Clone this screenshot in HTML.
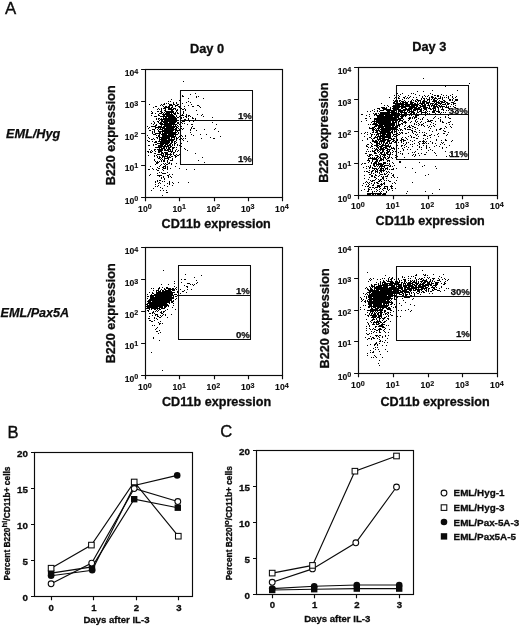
<!DOCTYPE html>
<html lang="en"><head><meta charset="utf-8"><title>Figure</title>
<style>
html,body{margin:0;padding:0;background:#fff;}
body{width:520px;height:626px;overflow:hidden;}
svg{display:block;will-change:transform;}
text{font-family:"Liberation Sans",Arial,Helvetica,sans-serif;fill:#0c0c0c;}
.r{stroke:#0c0c0c;stroke-width:0.35px;}
.b{font-weight:bold;stroke:#0c0c0c;stroke-width:0.3px;}
.t{stroke-width:0.12px;}
.bi{font-weight:bold;font-style:italic;stroke:#0c0c0c;stroke-width:0.25px;}
.ln{stroke:#0a0a0a;stroke-width:1.15;fill:none;}
.gate{stroke:#0a0a0a;stroke-width:1.05;fill:none;}
.dots{stroke:#000;fill:none;stroke-linecap:butt;}
</style></head><body>
<svg width="520" height="626" viewBox="0 0 520 626">
<rect width="520" height="626" fill="#fff"/>
<path class="dots" stroke-width="1" d="M169,111.5h1M174,123.5h1M173,113.5h1M167,107.5h1M167,155.5h1M166,120.5h1M171,110.5h1M168,140.5h1M171,136.5h1M161,123.5h1M168,116.5h1M168,124.5h1M167,119.5h1M170,124.5h1M172,136.5h1M168,112.5h1M168,123.5h1M171,108.5h1M165,155.5h1M163,154.5h1M170,135.5h1M166,128.5h1M161,143.5h1M165,107.5h1M167,132.5h1M164,118.5h1M163,119.5h1M169,119.5h1M172,118.5h1M168,134.5h1M166,138.5h1M170,128.5h1M171,113.5h1M167,135.5h1M171,123.5h1M173,134.5h1M168,117.5h1M170,120.5h1M169,149.5h1M173,126.5h1M163,131.5h1M166,139.5h1M165,136.5h1M162,140.5h1M169,120.5h1M171,125.5h1M166,132.5h1M174,113.5h1M172,110.5h1M172,129.5h1M163,138.5h1M171,129.5h1M171,152.5h1M162,138.5h1M170,136.5h1M168,149.5h1M172,123.5h1M168,138.5h1M170,143.5h1M165,134.5h1M171,128.5h1M168,128.5h1M170,111.5h1M166,141.5h1M173,119.5h1M171,105.5h1M168,126.5h1M173,109.5h1M175,118.5h1M162,124.5h1M172,134.5h1M170,108.5h1M168,130.5h1M165,138.5h1M173,137.5h1M164,143.5h1M171,126.5h1M174,121.5h1M162,134.5h1M167,141.5h1M163,126.5h1M169,131.5h1M174,118.5h1M176,120.5h1M162,132.5h1M166,153.5h1M171,116.5h1M175,122.5h1M166,137.5h1M170,130.5h1M168,131.5h1M166,114.5h1M170,125.5h1M170,112.5h1M168,115.5h1M163,122.5h1M167,128.5h1M173,136.5h1M163,137.5h1M174,136.5h1M171,114.5h1M169,122.5h1M167,126.5h1M163,147.5h1M174,144.5h1M179,100.5h1M165,158.5h1M166,147.5h1M171,133.5h1M165,135.5h1M167,129.5h1M169,121.5h1M173,123.5h1M172,127.5h1M167,127.5h1M170,129.5h1M160,141.5h1M172,137.5h1M166,118.5h1M171,134.5h1M171,107.5h1M174,124.5h1M172,114.5h1M172,122.5h1M168,120.5h1M166,106.5h1M167,130.5h1M164,139.5h1M166,113.5h1M169,116.5h1M161,129.5h1M168,118.5h1M169,135.5h1M173,132.5h1M171,132.5h1M166,119.5h1M166,131.5h1M176,115.5h1M176,128.5h1M177,117.5h1M165,125.5h1M170,140.5h1M170,133.5h1M171,137.5h1M169,134.5h1M169,112.5h1M163,130.5h1M166,122.5h1M169,126.5h1M167,133.5h1M171,140.5h1M170,123.5h1M169,136.5h1M167,144.5h1M169,118.5h1M171,138.5h1M166,130.5h1M164,130.5h1M165,133.5h1M174,133.5h1M169,125.5h1M164,138.5h1M162,136.5h1M175,113.5h1M163,139.5h1M170,126.5h1M171,109.5h1M163,113.5h1M170,114.5h1M172,130.5h1M170,118.5h1M171,117.5h1M172,121.5h1M167,116.5h1M164,122.5h1M175,119.5h1M166,154.5h1M171,120.5h1M159,143.5h1M169,132.5h1M166,134.5h1M163,134.5h1M172,148.5h1M175,128.5h1M167,114.5h1M161,151.5h1M170,121.5h1M167,138.5h1M170,127.5h1M165,129.5h1M163,160.5h1M168,113.5h1M167,131.5h1M167,140.5h1M172,109.5h1M173,139.5h1M167,145.5h1M171,118.5h1M166,127.5h1M171,130.5h1M170,109.5h1M164,133.5h1M173,122.5h1M164,125.5h1M161,112.5h1M166,135.5h1M170,122.5h1M169,124.5h1M168,127.5h1M173,116.5h1M169,106.5h1M170,145.5h1M164,128.5h1M170,131.5h1M167,136.5h1M170,139.5h1M170,157.5h1M162,130.5h1M174,114.5h1M162,150.5h1M167,120.5h1M170,146.5h1M183,120.5h1M164,135.5h1M161,120.5h1M164,132.5h1M175,114.5h1M166,148.5h1M169,133.5h1M180,123.5h1M166,123.5h1M165,120.5h1M168,129.5h1M172,119.5h1M169,129.5h1M158,133.5h1M165,118.5h1M171,122.5h1M168,135.5h1M176,118.5h1M172,112.5h1M172,115.5h1M169,127.5h1M168,132.5h1M170,134.5h1M174,119.5h1M173,124.5h1M169,130.5h1M165,119.5h1M166,126.5h1M158,151.5h1M168,125.5h1M173,125.5h1M159,166.5h1M168,143.5h1M171,139.5h1M175,129.5h1M174,129.5h1M160,131.5h1M172,117.5h1M169,123.5h1M163,136.5h1M170,104.5h1M168,109.5h1M175,106.5h1M168,137.5h1M172,105.5h1M170,119.5h1M166,121.5h1M169,128.5h1M166,125.5h1M168,106.5h1M175,117.5h1M159,129.5h1M167,123.5h1M175,125.5h1M166,146.5h1M171,143.5h1M165,117.5h1M171,131.5h1M174,116.5h1M173,117.5h1M168,108.5h1M167,137.5h1M167,112.5h1M172,120.5h1M163,121.5h1M164,120.5h1M164,160.5h1M162,128.5h1M171,111.5h1M176,121.5h1M168,114.5h1M163,133.5h1M163,143.5h1M172,126.5h1M162,142.5h1M167,125.5h1M173,128.5h1M174,108.5h1M173,129.5h1M175,141.5h1M168,121.5h1M161,141.5h1M168,136.5h1M159,134.5h1M166,136.5h1M162,133.5h1M172,107.5h1M174,127.5h1M169,141.5h1M168,148.5h1M169,142.5h1M164,136.5h1M160,143.5h1M164,127.5h1M166,129.5h1M167,124.5h1M164,123.5h1M173,121.5h1M171,119.5h1M167,118.5h1M169,109.5h1M165,122.5h1M165,154.5h1M168,111.5h1M164,150.5h1M165,128.5h1M173,133.5h1M162,137.5h1M165,131.5h1M165,141.5h1M173,118.5h1M168,107.5h1M165,143.5h1M165,142.5h1M169,114.5h1M163,141.5h1M173,102.5h1M173,120.5h1M167,122.5h1M166,107.5h1M171,127.5h1M162,116.5h1M165,144.5h1M165,139.5h1M165,146.5h1M169,138.5h1M175,112.5h1M164,124.5h1M165,149.5h1M164,149.5h1M174,120.5h1M161,161.5h1M175,126.5h1M172,116.5h1M161,122.5h1M169,137.5h1M162,135.5h1M162,123.5h1M158,135.5h1M177,112.5h1M172,141.5h1M169,140.5h1M164,146.5h1M176,105.5h1M175,105.5h1M169,117.5h1M174,134.5h1M174,117.5h1M175,130.5h1M173,115.5h1M171,135.5h1M167,115.5h1M169,105.5h1M177,131.5h1M167,142.5h1M160,146.5h1M164,158.5h1M178,123.5h1M159,135.5h1M159,157.5h1M172,128.5h1M163,148.5h1M173,111.5h1M162,143.5h1M174,122.5h1M164,134.5h1M164,147.5h1M172,131.5h1M167,149.5h1M161,140.5h1M164,137.5h1M175,133.5h1M174,126.5h1M168,139.5h1M169,113.5h1M166,143.5h1M170,116.5h1M172,142.5h1M172,135.5h1M178,106.5h1M170,132.5h1M176,119.5h1M165,150.5h1M166,116.5h1M166,142.5h1M176,111.5h1M166,124.5h1M173,140.5h1M164,140.5h1M169,139.5h1M167,157.5h1M166,117.5h1M161,119.5h1M165,111.5h1M173,112.5h1M164,129.5h1M164,119.5h1M177,110.5h1M162,153.5h1M175,120.5h1M175,143.5h1M154,116.5h1M153,129.5h1M170,144.5h1M155,128.5h1M158,118.5h1M158,147.5h1M159,168.5h1M172,144.5h1M177,105.5h1M159,137.5h1M178,150.5h1M173,127.5h1M148,137.5h1M159,127.5h1M167,154.5h1M182,129.5h1M158,126.5h1M158,119.5h1M161,152.5h1M174,155.5h1M156,119.5h1M168,150.5h1M178,117.5h1M160,128.5h1M161,109.5h1M166,152.5h1M157,133.5h1M164,103.5h1M181,118.5h1M177,144.5h1M161,118.5h1M185,136.5h1M163,108.5h1M172,133.5h1M160,142.5h1M176,126.5h1M159,141.5h1M174,141.5h1M165,106.5h1M162,129.5h1M154,153.5h1M169,107.5h1M155,144.5h1M168,101.5h1M147,126.5h1M158,128.5h1M178,120.5h1M157,111.5h1M160,126.5h1M162,141.5h1M168,177.5h1M147,140.5h1M171,115.5h1M158,145.5h1M164,114.5h1M164,108.5h1M172,147.5h1M154,139.5h1M171,151.5h1M164,141.5h1M180,110.5h1M169,162.5h1M159,161.5h1M161,145.5h1M148,141.5h1M153,121.5h1M172,145.5h1M165,145.5h1M155,153.5h1M162,156.5h1M178,132.5h1M175,157.5h1M153,144.5h1M170,160.5h1M158,122.5h1M160,132.5h1M161,126.5h1M177,155.5h1M179,136.5h1M163,144.5h1M158,143.5h1M167,146.5h1M152,129.5h1M187,150.5h1M174,143.5h1M156,133.5h1M162,119.5h1M151,123.5h1M151,115.5h1M164,131.5h1M176,124.5h1M177,130.5h1M166,103.5h1M165,126.5h1M164,126.5h1M163,127.5h1M164,142.5h1M170,168.5h1M169,156.5h1M166,140.5h1M177,120.5h1M175,135.5h1M155,116.5h1M163,115.5h1M173,148.5h1M169,148.5h1M166,144.5h1M169,157.5h1M155,113.5h1M159,118.5h1M159,146.5h1M179,129.5h1M169,151.5h1M168,133.5h1M162,159.5h1M178,113.5h1M165,140.5h1M178,137.5h1M184,123.5h1M158,131.5h1M162,127.5h1M163,117.5h1M148,152.5h1M166,111.5h1M159,151.5h1M160,122.5h1M170,154.5h1M170,153.5h1M161,149.5h1M147,135.5h1M163,140.5h1M178,130.5h1M161,148.5h1M187,141.5h1M151,152.5h1M162,105.5h1M154,160.5h1M162,139.5h1M159,132.5h1M152,133.5h1M168,157.5h1M161,138.5h1M175,124.5h1M154,149.5h1M181,128.5h1M166,133.5h1M168,142.5h1M157,137.5h1M169,144.5h1M168,145.5h1M172,111.5h1M173,135.5h1M152,131.5h1M168,146.5h1M161,121.5h1M174,145.5h1M167,113.5h1M165,116.5h1M149,130.5h1M160,129.5h1M160,116.5h1M182,136.5h1M171,177.5h1M162,120.5h1M178,126.5h1M165,137.5h1M176,134.5h1M180,132.5h1M155,133.5h1M167,167.5h1M181,117.5h1M186,116.5h1M167,143.5h1M170,150.5h1M176,147.5h1M162,144.5h1M147,151.5h1M157,163.5h1M150,151.5h1M153,126.5h1M175,121.5h1M174,132.5h1M156,118.5h1M181,126.5h1M162,131.5h1M180,119.5h1M181,120.5h1M164,112.5h1M160,124.5h1M176,130.5h1M175,151.5h1M158,146.5h1M167,156.5h1M176,149.5h1M171,121.5h1M186,102.5h1M173,147.5h1M163,142.5h1M178,133.5h1M161,153.5h1M177,113.5h1M159,136.5h1M172,124.5h1M157,127.5h1M163,167.5h1M160,119.5h1M165,130.5h1M152,151.5h1M180,148.5h1M169,108.5h1M166,115.5h1M164,110.5h1M176,154.5h1M166,158.5h1M179,154.5h1M160,157.5h1M179,124.5h1M167,152.5h1M158,162.5h1M162,148.5h1M164,161.5h1M163,155.5h1M181,135.5h1M176,102.5h1M173,153.5h1M170,117.5h1M174,142.5h1M172,106.5h1M155,141.5h1M161,142.5h1M177,125.5h1M160,123.5h1M161,164.5h1M174,138.5h1M155,125.5h1M172,139.5h1M188,118.5h1M161,160.5h1M168,103.5h1M163,106.5h1M153,107.5h1M157,138.5h1M155,161.5h1M165,156.5h1M158,121.5h1M161,110.5h1M168,151.5h1M148,151.5h1M171,124.5h1M148,155.5h1M176,132.5h1M154,131.5h1M176,127.5h1M154,130.5h1M152,126.5h1M158,150.5h1M158,127.5h1M166,112.5h1M163,163.5h1M163,153.5h1M160,137.5h1M159,139.5h1M181,122.5h1M157,143.5h1M161,137.5h1M169,104.5h1M178,104.5h1M160,127.5h1M189,121.5h1M160,149.5h1M156,124.5h1M185,138.5h1M180,137.5h1M167,121.5h1M173,152.5h1M177,104.5h1M167,111.5h1M157,121.5h1M153,138.5h1M161,134.5h1M177,122.5h1M175,136.5h1M169,147.5h1M151,150.5h1M179,107.5h1M175,131.5h1M163,116.5h1M175,150.5h1M160,144.5h1M173,108.5h1M159,140.5h1M176,110.5h1M159,123.5h1M159,147.5h1M171,146.5h1M159,150.5h1M181,146.5h1M165,152.5h1M177,109.5h1M179,145.5h1M156,141.5h1M180,121.5h1M151,126.5h1M163,124.5h1M168,159.5h1M167,158.5h1M154,132.5h1M163,118.5h1M176,103.5h1M159,148.5h1M159,109.5h1M183,138.5h1M179,116.5h1M173,130.5h1M155,127.5h1M179,139.5h1M165,113.5h1M162,155.5h1M155,151.5h1M180,106.5h1M161,131.5h1M158,154.5h1M161,111.5h1M176,138.5h1M157,129.5h1M156,127.5h1M165,153.5h1M174,152.5h1M163,166.5h1M176,156.5h1M173,103.5h1M179,106.5h1M155,106.5h1M155,149.5h1M149,145.5h1M149,141.5h1M155,126.5h1M171,141.5h1M167,166.5h1M160,139.5h1M167,175.5h1M169,115.5h1M169,145.5h1M175,134.5h1M181,138.5h1M173,104.5h1M165,121.5h1M176,116.5h1M164,164.5h1M156,144.5h1M165,168.5h1M185,109.5h1M175,109.5h1M157,157.5h1M176,137.5h1M167,150.5h1M185,116.5h1M153,124.5h1M159,131.5h1M165,173.5h1M154,123.5h1M169,163.5h1M165,132.5h1M156,142.5h1M154,150.5h1M171,142.5h1M159,133.5h1M165,109.5h1M161,146.5h1M175,166.5h1M165,123.5h1M159,126.5h1M167,164.5h1M158,149.5h1M162,112.5h1M177,123.5h1M178,122.5h1M164,145.5h1M156,155.5h1M158,152.5h1M165,165.5h1M171,99.5h1M179,130.5h1M172,149.5h1M184,148.5h1M164,152.5h1M163,146.5h1M158,130.5h1M174,104.5h1M176,129.5h1M162,121.5h1M152,112.5h1M156,106.5h1M172,132.5h1M152,132.5h1M161,124.5h1M158,108.5h1M182,139.5h1M178,128.5h1M174,139.5h1M177,151.5h1M176,140.5h1M154,129.5h1M160,133.5h1M163,170.5h1M182,123.5h1M170,101.5h1M174,147.5h1M163,114.5h1M155,164.5h1M161,113.5h1M160,147.5h1M159,115.5h1M185,135.5h1M160,111.5h1M161,108.5h1M149,127.5h1M165,108.5h1M159,154.5h1M154,134.5h1M159,138.5h1M160,151.5h1M165,114.5h1M171,112.5h1M161,139.5h1M156,116.5h1M149,149.5h1M149,104.5h1M164,107.5h1M155,142.5h1M164,156.5h1M162,173.5h1M180,111.5h1M157,109.5h1M154,142.5h1M164,168.5h1M163,104.5h1M158,115.5h1M184,106.5h1M154,126.5h1M162,114.5h1M168,119.5h1M148,145.5h1M162,146.5h1M158,114.5h1M171,104.5h1M161,116.5h1M180,127.5h1M171,154.5h1M173,154.5h1M183,117.5h1M160,105.5h1M180,136.5h1M167,153.5h1M152,113.5h1M157,162.5h1M170,105.5h1M153,134.5h1M157,161.5h1M150,130.5h1M181,143.5h1M178,155.5h1M175,155.5h1M168,158.5h1M177,145.5h1M154,156.5h1M176,142.5h1M167,160.5h1M182,114.5h1M161,104.5h1M159,113.5h1M172,160.5h1M168,141.5h1M165,110.5h1M172,151.5h1M178,182.5h1M164,104.5h1M163,156.5h1M168,147.5h1M177,134.5h1M163,135.5h1M152,139.5h1M151,113.5h1M154,122.5h1M165,124.5h1M157,156.5h1M172,140.5h1M163,128.5h1M161,127.5h1M162,145.5h1M174,137.5h1M166,150.5h1M165,163.5h1M164,121.5h1M172,156.5h1M159,120.5h1M176,139.5h1M177,127.5h1M158,136.5h1M157,154.5h1M164,157.5h1M149,138.5h1M156,125.5h1M161,155.5h1M177,138.5h1M151,139.5h1M161,125.5h1M183,128.5h1M157,149.5h1M161,147.5h1M155,182.5h1M164,115.5h1M164,148.5h1M158,111.5h1M157,167.5h1M161,150.5h1M170,151.5h1M180,115.5h1M182,121.5h1M175,132.5h1M157,147.5h1M164,116.5h1M151,111.5h1M156,169.5h1M175,108.5h1M170,115.5h1M160,113.5h1M158,168.5h1M162,157.5h1M165,166.5h1M167,172.5h1M148,169.5h1M161,144.5h1M170,147.5h1M171,164.5h1M164,166.5h1M163,161.5h1M160,175.5h1M150,174.5h1M149,169.5h1M159,182.5h1M161,158.5h1M171,156.5h1M159,156.5h1M167,161.5h1M158,141.5h1M160,154.5h1M150,166.5h1M167,168.5h1M156,147.5h1M155,181.5h1M159,152.5h1M154,159.5h1M160,165.5h1M172,158.5h1M163,190.5h1M167,169.5h1M156,162.5h1M158,170.5h1M167,186.5h1M159,172.5h1M172,150.5h1M157,170.5h1M162,152.5h1M160,150.5h1M169,182.5h1M153,169.5h1M161,172.5h1M167,162.5h1M173,183.5h1M152,141.5h1M153,188.5h1M157,175.5h1M168,163.5h1M168,154.5h1M160,145.5h1M157,180.5h1M168,175.5h1M154,155.5h1M163,173.5h1M171,163.5h1M156,137.5h1M161,175.5h1M156,135.5h1M159,145.5h1M158,158.5h1M170,149.5h1M168,176.5h1M155,134.5h1M149,175.5h1M166,156.5h1M152,168.5h1M162,195.5h1M161,177.5h1M164,181.5h1M175,156.5h1M157,173.5h1M162,181.5h1M166,190.5h1M164,178.5h1M176,163.5h1M162,149.5h1M166,164.5h1M164,173.5h1M159,175.5h1M150,152.5h1M153,145.5h1M163,168.5h1M159,149.5h1M179,168.5h1M170,155.5h1M159,176.5h1M158,175.5h1M171,160.5h1M169,154.5h1M172,159.5h1M172,174.5h1M159,180.5h1M156,163.5h1M162,167.5h1M164,185.5h1M155,147.5h1M164,159.5h1M163,176.5h1M169,174.5h1M162,169.5h1M160,180.5h1M169,184.5h1M161,154.5h1M165,167.5h1M169,181.5h1M163,177.5h1M158,185.5h1M164,179.5h1M172,185.5h1M166,192.5h1M160,190.5h1M157,181.5h1M155,186.5h1M160,187.5h1M151,190.5h1M160,183.5h1M170,176.5h1M162,188.5h1M161,178.5h1M158,183.5h1M167,183.5h1M167,192.5h1M172,182.5h1M157,186.5h1M155,184.5h1M192,118.5h1M183,112.5h1M190,102.5h1M188,116.5h1M188,115.5h1M188,101.5h1M183,140.5h1M183,121.5h1M184,119.5h1M182,115.5h1M186,115.5h1M196,97.5h1M193,106.5h1M183,113.5h1M201,115.5h1M203,116.5h1M195,118.5h1M195,93.5h1M182,103.5h1M183,111.5h1M193,135.5h1M183,109.5h1M198,96.5h1M200,134.5h1M197,114.5h1M192,106.5h1M181,115.5h1M185,110.5h1M191,127.5h1M197,105.5h1M182,109.5h1M184,108.5h1M186,117.5h1M192,120.5h1M186,114.5h1M187,124.5h1M188,119.5h1M192,117.5h1M196,96.5h1M190,94.5h1M191,128.5h1M196,130.5h1M192,126.5h1M198,120.5h1M190,130.5h1M182,95.5h1M193,128.5h1M189,115.5h1M185,119.5h1M193,121.5h1M184,121.5h1M199,106.5h1M191,104.5h1M183,115.5h1M196,110.5h1M182,96.5h1M192,124.5h1M181,108.5h1M198,105.5h1M188,105.5h1M187,120.5h1M203,98.5h1M183,96.5h1M191,124.5h1M191,134.5h1M188,98.5h1M193,118.5h1M183,81.5h1M212,117.5h1M200,107.5h1M210,137.5h1M215,128.5h1M204,162.5h1M204,129.5h1M212,122.5h1M218,131.5h1M214,138.5h1M195,153.5h1M213,138.5h1M195,119.5h1M214,129.5h1M202,157.5h1M202,114.5h1M206,134.5h1M185,149.5h1M201,138.5h1M190,132.5h1M216,124.5h1M220,136.5h1M194,169.5h1M186,169.5h1M194,128.5h1M169,183.5h1M190,116.5h1M188,182.5h1M198,160.5h1M190,129.5h1M159,158.5h1M148,128.5h1M160,159.5h1"/>
<rect class="ln" x="145.5" y="69.5" width="137" height="128"/>
<path class="ln" d="M141.1,197.5H145.5M145.5,197.5V201.3M141.1,165.5H145.5M179.5,197.5V201.3M141.1,133.5H145.5M214.5,197.5V201.3M141.1,101.5H145.5M248.5,197.5V201.3M141.1,69.5H145.5M282.5,197.5V201.3"/>
<text class="b t" x="138.3" y="203.5" font-size="8.6" text-anchor="end">10<tspan font-size="7.2" dy="-2.2">0</tspan></text>
<text class="b t" x="144.9" y="211.5" font-size="8.6" text-anchor="middle">10<tspan font-size="7.2" dy="-2.2">0</tspan></text>
<text class="b t" x="138.3" y="170.5" font-size="8.6" text-anchor="end">10<tspan font-size="7.2" dy="-2.2">1</tspan></text>
<text class="b t" x="179.2" y="211.5" font-size="8.6" text-anchor="middle">10<tspan font-size="7.2" dy="-2.2">1</tspan></text>
<text class="b t" x="138.3" y="139.6" font-size="8.6" text-anchor="end">10<tspan font-size="7.2" dy="-2.2">2</tspan></text>
<text class="b t" x="213.4" y="211.5" font-size="8.6" text-anchor="middle">10<tspan font-size="7.2" dy="-2.2">2</tspan></text>
<text class="b t" x="138.3" y="107.7" font-size="8.6" text-anchor="end">10<tspan font-size="7.2" dy="-2.2">3</tspan></text>
<text class="b t" x="247.7" y="211.5" font-size="8.6" text-anchor="middle">10<tspan font-size="7.2" dy="-2.2">3</tspan></text>
<text class="b t" x="138.3" y="76.4" font-size="8.6" text-anchor="end">10<tspan font-size="7.2" dy="-2.2">4</tspan></text>
<text class="b t" x="281.9" y="211.5" font-size="8.6" text-anchor="middle">10<tspan font-size="7.2" dy="-2.2">4</tspan></text>
<path class="gate" d="M180.5,90.5H252.5V164.5H180.5ZM180.5,120.5H252.5"/>
<text class="b" style="stroke-width:0.25px" x="251.9" y="119" font-size="9.6" text-anchor="end">1%</text>
<text class="b" style="stroke-width:0.25px" x="251.9" y="162" font-size="9.6" text-anchor="end">1%</text>
<text class="b" x="161.6" y="227.5" font-size="12.6">CD11b expression</text>
<text class="b" transform="translate(114.5,135.3) rotate(-90)" font-size="12.6" text-anchor="middle">B220 expression</text>
<path class="dots" stroke-width="1" d="M392,119.5h1M393,119.5h1M393,118.5h1M388,127.5h1M392,122.5h1M380,113.5h1M383,124.5h1M390,129.5h1M372,128.5h1M376,119.5h1M390,120.5h1M387,121.5h1M384,128.5h1M385,126.5h1M395,117.5h1M389,127.5h1M384,108.5h1M377,110.5h1M387,126.5h1M379,109.5h1M385,132.5h1M381,124.5h1M394,120.5h1M381,131.5h1M386,135.5h1M395,120.5h1M372,127.5h1M383,115.5h1M376,114.5h1M396,110.5h1M389,130.5h1M385,118.5h1M387,132.5h1M391,112.5h1M390,114.5h1M387,122.5h1M392,127.5h1M388,114.5h1M398,115.5h1M379,117.5h1M384,134.5h1M391,123.5h1M383,116.5h1M394,118.5h1M392,114.5h1M397,135.5h1M384,120.5h1M386,112.5h1M391,110.5h1M383,108.5h1M384,129.5h1M397,116.5h1M390,134.5h1M394,115.5h1M395,131.5h1M385,119.5h1M380,122.5h1M393,124.5h1M383,133.5h1M386,121.5h1M381,133.5h1M377,117.5h1M382,138.5h1M384,124.5h1M375,124.5h1M395,118.5h1M384,123.5h1M396,123.5h1M393,121.5h1M382,112.5h1M383,117.5h1M386,115.5h1M386,114.5h1M388,126.5h1M389,115.5h1M387,119.5h1M382,133.5h1M376,129.5h1M387,120.5h1M385,114.5h1M390,119.5h1M382,125.5h1M387,113.5h1M380,117.5h1M388,125.5h1M384,119.5h1M388,131.5h1M402,108.5h1M391,116.5h1M385,115.5h1M388,123.5h1M386,116.5h1M386,128.5h1M386,134.5h1M386,124.5h1M392,116.5h1M392,128.5h1M397,113.5h1M389,119.5h1M389,124.5h1M401,110.5h1M377,128.5h1M389,123.5h1M390,117.5h1M382,113.5h1M384,126.5h1M377,124.5h1M383,123.5h1M374,121.5h1M391,124.5h1M380,124.5h1M394,131.5h1M386,118.5h1M380,125.5h1M389,117.5h1M374,122.5h1M386,126.5h1M395,115.5h1M375,121.5h1M390,121.5h1M388,133.5h1M391,118.5h1M384,114.5h1M394,119.5h1M385,120.5h1M388,110.5h1M384,109.5h1M381,125.5h1M381,129.5h1M378,129.5h1M389,97.5h1M388,109.5h1M374,114.5h1M383,126.5h1M386,117.5h1M388,124.5h1M382,127.5h1M380,112.5h1M387,123.5h1M387,114.5h1M400,116.5h1M386,119.5h1M386,120.5h1M387,125.5h1M373,124.5h1M378,130.5h1M377,119.5h1M375,119.5h1M396,122.5h1M390,112.5h1M394,123.5h1M384,117.5h1M381,123.5h1M376,125.5h1M377,131.5h1M381,120.5h1M393,114.5h1M395,119.5h1M384,136.5h1M391,127.5h1M389,111.5h1M378,121.5h1M387,110.5h1M387,111.5h1M388,128.5h1M387,128.5h1M389,132.5h1M381,107.5h1M388,122.5h1M383,114.5h1M382,128.5h1M382,129.5h1M391,131.5h1M388,121.5h1M389,109.5h1M399,121.5h1M392,131.5h1M380,131.5h1M379,108.5h1M389,125.5h1M382,126.5h1M392,120.5h1M374,124.5h1M374,118.5h1M381,126.5h1M390,133.5h1M391,120.5h1M386,109.5h1M395,114.5h1M385,125.5h1M395,113.5h1M385,121.5h1M375,118.5h1M388,111.5h1M383,119.5h1M386,136.5h1M383,127.5h1M386,130.5h1M397,129.5h1M387,118.5h1M392,121.5h1M385,116.5h1M397,105.5h1M388,117.5h1M393,120.5h1M378,126.5h1M394,109.5h1M377,139.5h1M384,130.5h1M379,121.5h1M383,110.5h1M388,118.5h1M379,138.5h1M395,116.5h1M402,114.5h1M388,130.5h1M398,122.5h1M382,118.5h1M382,134.5h1M391,128.5h1M389,120.5h1M393,122.5h1M392,117.5h1M382,140.5h1M390,118.5h1M390,124.5h1M386,123.5h1M379,115.5h1M392,124.5h1M397,127.5h1M396,129.5h1M383,130.5h1M383,122.5h1M394,127.5h1M383,120.5h1M377,133.5h1M394,129.5h1M389,121.5h1M386,122.5h1M376,115.5h1M384,133.5h1M386,132.5h1M383,139.5h1M381,135.5h1M387,116.5h1M390,126.5h1M397,125.5h1M380,121.5h1M397,119.5h1M395,122.5h1M386,113.5h1M395,136.5h1M388,113.5h1M382,117.5h1M390,116.5h1M381,121.5h1M384,139.5h1M379,120.5h1M382,116.5h1M380,132.5h1M382,119.5h1M383,107.5h1M396,107.5h1M378,136.5h1M395,121.5h1M372,129.5h1M374,126.5h1M397,126.5h1M394,124.5h1M387,124.5h1M386,110.5h1M373,129.5h1M373,131.5h1M389,114.5h1M391,114.5h1M394,125.5h1M386,125.5h1M397,120.5h1M384,131.5h1M371,128.5h1M384,125.5h1M377,122.5h1M380,119.5h1M395,108.5h1M382,130.5h1M385,134.5h1M392,115.5h1M381,119.5h1M388,115.5h1M390,115.5h1M393,109.5h1M395,126.5h1M381,112.5h1M385,113.5h1M378,125.5h1M379,136.5h1M373,121.5h1M380,115.5h1M389,122.5h1M391,115.5h1M375,125.5h1M381,110.5h1M389,136.5h1M381,118.5h1M386,108.5h1M395,107.5h1M380,133.5h1M400,118.5h1M389,118.5h1M383,118.5h1M388,116.5h1M392,125.5h1M382,110.5h1M387,127.5h1M393,112.5h1M392,126.5h1M398,107.5h1M384,122.5h1M382,122.5h1M374,123.5h1M379,123.5h1M396,125.5h1M386,127.5h1M398,124.5h1M379,125.5h1M392,130.5h1M384,105.5h1M380,123.5h1M396,116.5h1M402,124.5h1M377,108.5h1M381,127.5h1M385,109.5h1M384,118.5h1M376,124.5h1M376,118.5h1M392,112.5h1M390,123.5h1M388,132.5h1M382,121.5h1M394,106.5h1M383,113.5h1M382,131.5h1M391,113.5h1M401,123.5h1M389,135.5h1M392,118.5h1M393,125.5h1M385,131.5h1M375,132.5h1M387,131.5h1M379,118.5h1M400,124.5h1M396,117.5h1M377,138.5h1M387,139.5h1M398,118.5h1M388,134.5h1M375,123.5h1M390,110.5h1M391,119.5h1M385,124.5h1M392,106.5h1M393,123.5h1M379,119.5h1M385,127.5h1M379,126.5h1M389,113.5h1M398,109.5h1M385,128.5h1M377,141.5h1M381,114.5h1M387,105.5h1M380,120.5h1M391,132.5h1M370,118.5h1M377,121.5h1M383,121.5h1M384,113.5h1M378,119.5h1M387,117.5h1M376,131.5h1M372,110.5h1M380,129.5h1M378,128.5h1M382,114.5h1M391,111.5h1M392,110.5h1M392,129.5h1M385,130.5h1M372,132.5h1M382,123.5h1M392,123.5h1M381,130.5h1M388,136.5h1M390,128.5h1M397,114.5h1M393,115.5h1M385,122.5h1M398,110.5h1M375,137.5h1M377,132.5h1M390,109.5h1M378,120.5h1M398,112.5h1M380,127.5h1M395,127.5h1M379,122.5h1M388,120.5h1M382,124.5h1M388,129.5h1M389,128.5h1M395,112.5h1M388,119.5h1M387,112.5h1M376,126.5h1M396,113.5h1M374,115.5h1M403,122.5h1M396,121.5h1M380,118.5h1M380,114.5h1M378,123.5h1M394,130.5h1M394,122.5h1M385,123.5h1M377,125.5h1M379,111.5h1M379,137.5h1M378,113.5h1M376,123.5h1M379,124.5h1M377,116.5h1M389,129.5h1M381,115.5h1M399,109.5h1M396,111.5h1M379,139.5h1M381,128.5h1M390,138.5h1M379,127.5h1M393,126.5h1M373,127.5h1M381,103.5h1M384,107.5h1M380,126.5h1M394,117.5h1M384,112.5h1M387,137.5h1M392,108.5h1M381,113.5h1M383,128.5h1M398,125.5h1M403,116.5h1M375,114.5h1M396,130.5h1M390,127.5h1M374,120.5h1M378,133.5h1M398,116.5h1M401,116.5h1M389,133.5h1M387,115.5h1M377,130.5h1M381,116.5h1M391,125.5h1M370,133.5h1M385,129.5h1M387,129.5h1M393,108.5h1M379,130.5h1M398,117.5h1M383,129.5h1M373,123.5h1M393,111.5h1M392,133.5h1M376,113.5h1M378,116.5h1M393,129.5h1M391,117.5h1M373,130.5h1M391,129.5h1M378,117.5h1M385,108.5h1M386,143.5h1M385,136.5h1M384,116.5h1M397,115.5h1M393,117.5h1M389,110.5h1M368,124.5h1M377,118.5h1M389,116.5h1M383,109.5h1M390,130.5h1M377,137.5h1M378,118.5h1M390,125.5h1M381,122.5h1M382,120.5h1M376,121.5h1M390,107.5h1M385,133.5h1M377,115.5h1M386,129.5h1M379,128.5h1M378,115.5h1M387,109.5h1M394,134.5h1M376,122.5h1M394,110.5h1M380,138.5h1M384,132.5h1M395,109.5h1M394,112.5h1M382,107.5h1M399,126.5h1M396,119.5h1M390,122.5h1M393,113.5h1M375,128.5h1M383,136.5h1M393,141.5h1M393,134.5h1M389,126.5h1M398,105.5h1M393,127.5h1M385,112.5h1M378,134.5h1M378,127.5h1M384,138.5h1M393,128.5h1M389,112.5h1M381,117.5h1M392,111.5h1M388,106.5h1M373,113.5h1M376,132.5h1M378,122.5h1M399,110.5h1M390,132.5h1M396,127.5h1M372,121.5h1M370,137.5h1M389,131.5h1M382,115.5h1M382,132.5h1M388,135.5h1M377,120.5h1M385,117.5h1M386,107.5h1M389,134.5h1M383,132.5h1M392,113.5h1M383,137.5h1M383,112.5h1M400,129.5h1M376,120.5h1M387,130.5h1M374,119.5h1M400,110.5h1M390,108.5h1M380,110.5h1M395,106.5h1M394,128.5h1M384,141.5h1M378,140.5h1M381,147.5h1M391,142.5h1M380,134.5h1M365,163.5h1M390,143.5h1M383,131.5h1M384,145.5h1M385,144.5h1M375,130.5h1M383,140.5h1M383,143.5h1M376,135.5h1M377,111.5h1M374,127.5h1M387,142.5h1M381,146.5h1M388,149.5h1M386,137.5h1M378,139.5h1M395,134.5h1M384,147.5h1M379,149.5h1M379,143.5h1M383,138.5h1M390,136.5h1M388,146.5h1M403,150.5h1M394,132.5h1M375,152.5h1M380,148.5h1M368,144.5h1M382,139.5h1M391,147.5h1M386,147.5h1M387,136.5h1M369,137.5h1M392,148.5h1M378,150.5h1M376,141.5h1M387,151.5h1M377,142.5h1M392,141.5h1M389,146.5h1M383,141.5h1M379,141.5h1M382,137.5h1M387,141.5h1M388,141.5h1M378,108.5h1M385,140.5h1M385,143.5h1M393,139.5h1M388,112.5h1M374,152.5h1M393,138.5h1M374,129.5h1M378,143.5h1M369,116.5h1M387,146.5h1M395,128.5h1M384,149.5h1M379,133.5h1M382,135.5h1M399,132.5h1M397,139.5h1M389,140.5h1M385,154.5h1M388,145.5h1M380,137.5h1M387,135.5h1M393,151.5h1M382,136.5h1M382,108.5h1M374,111.5h1M380,135.5h1M383,154.5h1M381,132.5h1M391,148.5h1M374,141.5h1M383,145.5h1M381,145.5h1M400,133.5h1M399,134.5h1M398,142.5h1M385,139.5h1M374,151.5h1M376,155.5h1M381,152.5h1M377,136.5h1M390,140.5h1M385,146.5h1M371,136.5h1M383,166.5h1M381,158.5h1M376,140.5h1M380,144.5h1M388,144.5h1M386,139.5h1M388,137.5h1M379,142.5h1M385,145.5h1M373,128.5h1M389,138.5h1M386,142.5h1M400,153.5h1M385,157.5h1M380,140.5h1M383,142.5h1M374,134.5h1M389,156.5h1M373,140.5h1M397,145.5h1M392,150.5h1M366,118.5h1M384,167.5h1M387,148.5h1M384,155.5h1M389,142.5h1M382,141.5h1M395,151.5h1M388,139.5h1M383,135.5h1M390,135.5h1M376,130.5h1M382,148.5h1M385,137.5h1M388,140.5h1M373,138.5h1M386,131.5h1M380,156.5h1M377,143.5h1M380,141.5h1M375,158.5h1M379,144.5h1M370,124.5h1M384,121.5h1M392,154.5h1M388,160.5h1M382,154.5h1M373,164.5h1M382,152.5h1M392,132.5h1M387,134.5h1M372,134.5h1M373,132.5h1M372,155.5h1M390,165.5h1M371,145.5h1M392,139.5h1M370,158.5h1M376,145.5h1M382,150.5h1M381,142.5h1M380,147.5h1M380,153.5h1M388,152.5h1M378,145.5h1M384,154.5h1M401,142.5h1M384,137.5h1M401,129.5h1M377,157.5h1M389,149.5h1M384,152.5h1M380,116.5h1M383,148.5h1M405,133.5h1M367,138.5h1M378,135.5h1M374,150.5h1M396,144.5h1M380,136.5h1M375,140.5h1M387,158.5h1M375,142.5h1M377,146.5h1M389,157.5h1M371,135.5h1M386,159.5h1M384,135.5h1M372,146.5h1M387,149.5h1M366,146.5h1M390,137.5h1M384,140.5h1M372,124.5h1M372,150.5h1M390,166.5h1M374,153.5h1M396,147.5h1M376,134.5h1M371,122.5h1M394,148.5h1M383,158.5h1M382,145.5h1M390,145.5h1M375,126.5h1M375,153.5h1M374,138.5h1M390,149.5h1M375,113.5h1M387,145.5h1M380,139.5h1M394,142.5h1M380,152.5h1M371,158.5h1M386,146.5h1M377,144.5h1M377,147.5h1M386,150.5h1M369,127.5h1M381,141.5h1M393,147.5h1M396,148.5h1M387,140.5h1M403,140.5h1M387,143.5h1M389,150.5h1M397,156.5h1M385,147.5h1M377,145.5h1M376,137.5h1M375,136.5h1M389,141.5h1M392,152.5h1M367,144.5h1M398,148.5h1M378,147.5h1M383,134.5h1M379,116.5h1M379,146.5h1M379,114.5h1M387,133.5h1M378,148.5h1M386,148.5h1M369,156.5h1M383,147.5h1M385,158.5h1M376,142.5h1M381,140.5h1M374,137.5h1M381,138.5h1M375,150.5h1M401,140.5h1M369,174.5h1M389,137.5h1M387,163.5h1M386,178.5h1M375,166.5h1M393,163.5h1M367,146.5h1M387,188.5h1M374,164.5h1M381,167.5h1M372,157.5h1M375,162.5h1M385,163.5h1M390,153.5h1M395,183.5h1M370,174.5h1M378,158.5h1M382,144.5h1M369,158.5h1M365,118.5h1M370,165.5h1M389,164.5h1M371,146.5h1M386,186.5h1M380,169.5h1M385,162.5h1M377,164.5h1M388,158.5h1M380,155.5h1M382,170.5h1M380,146.5h1M372,144.5h1M380,179.5h1M383,151.5h1M381,164.5h1M379,160.5h1M373,151.5h1M377,160.5h1M384,183.5h1M382,166.5h1M373,163.5h1M387,167.5h1M382,174.5h1M381,136.5h1M392,136.5h1M391,177.5h1M381,181.5h1M376,163.5h1M368,172.5h1M381,154.5h1M372,176.5h1M375,149.5h1M366,184.5h1M385,169.5h1M369,160.5h1M378,181.5h1M383,159.5h1M386,165.5h1M380,168.5h1M375,177.5h1M374,176.5h1M369,184.5h1M380,166.5h1M374,148.5h1M383,188.5h1M377,170.5h1M380,188.5h1M387,156.5h1M392,158.5h1M380,158.5h1M376,169.5h1M379,172.5h1M381,170.5h1M384,166.5h1M376,158.5h1M391,188.5h1M381,179.5h1M387,160.5h1M374,165.5h1M383,168.5h1M377,187.5h1M387,165.5h1M376,171.5h1M380,150.5h1M380,174.5h1M386,168.5h1M388,165.5h1M393,148.5h1M382,151.5h1M372,171.5h1M364,175.5h1M379,163.5h1M380,171.5h1M380,193.5h1M378,162.5h1M383,176.5h1M379,180.5h1M373,187.5h1M381,168.5h1M375,159.5h1M369,154.5h1M383,149.5h1M389,155.5h1M377,172.5h1M385,148.5h1M387,168.5h1M389,160.5h1M393,168.5h1M377,150.5h1M386,152.5h1M376,143.5h1M392,162.5h1M387,175.5h1M387,186.5h1M405,167.5h1M379,167.5h1M374,166.5h1M373,168.5h1M370,157.5h1M392,175.5h1M379,151.5h1M371,134.5h1M390,146.5h1M374,145.5h1M382,146.5h1M379,173.5h1M388,151.5h1M386,176.5h1M366,171.5h1M387,172.5h1M383,160.5h1M381,153.5h1M371,176.5h1M376,168.5h1M383,164.5h1M376,162.5h1M379,170.5h1M387,153.5h1M380,180.5h1M379,157.5h1M390,152.5h1M369,172.5h1M392,169.5h1M379,193.5h1M388,171.5h1M374,158.5h1M381,174.5h1M383,179.5h1M372,161.5h1M366,166.5h1M389,172.5h1M364,178.5h1M384,157.5h1M379,164.5h1M379,181.5h1M389,166.5h1M380,159.5h1M381,191.5h1M386,145.5h1M382,159.5h1M371,173.5h1M383,178.5h1M394,149.5h1M374,163.5h1M381,169.5h1M368,166.5h1M387,161.5h1M380,149.5h1M381,163.5h1M383,150.5h1M364,133.5h1M372,159.5h1M378,165.5h1M376,175.5h1M371,143.5h1M381,171.5h1M382,164.5h1M390,154.5h1M384,156.5h1M374,180.5h1M380,157.5h1M367,171.5h1M364,163.5h1M380,170.5h1M376,157.5h1M376,161.5h1M379,175.5h1M382,149.5h1M376,153.5h1M374,188.5h1M376,144.5h1M370,155.5h1M371,162.5h1M377,182.5h1M369,161.5h1M373,159.5h1M394,177.5h1M378,168.5h1M368,158.5h1M384,174.5h1M393,169.5h1M387,154.5h1M382,168.5h1M381,166.5h1M394,165.5h1M389,143.5h1M381,183.5h1M383,170.5h1M381,159.5h1M372,180.5h1M379,166.5h1M381,160.5h1M392,186.5h1M385,155.5h1M375,170.5h1M373,158.5h1M376,164.5h1M378,152.5h1M396,143.5h1M370,166.5h1M377,169.5h1M382,165.5h1M391,157.5h1M391,138.5h1M387,152.5h1M388,157.5h1M363,167.5h1M372,187.5h1M375,174.5h1M393,140.5h1M375,155.5h1M378,163.5h1M391,169.5h1M372,185.5h1M368,147.5h1M385,165.5h1M374,159.5h1M384,165.5h1M367,186.5h1M397,177.5h1M373,185.5h1M392,166.5h1M371,172.5h1M384,142.5h1M366,153.5h1M378,164.5h1M375,168.5h1M388,174.5h1M370,154.5h1M383,144.5h1M388,138.5h1M378,156.5h1M376,146.5h1M376,160.5h1M383,162.5h1M377,151.5h1M387,150.5h1M389,169.5h1M384,180.5h1M373,141.5h1M377,171.5h1M371,163.5h1M389,147.5h1M372,158.5h1M385,176.5h1M377,156.5h1M376,159.5h1M376,189.5h1M377,161.5h1M369,168.5h1M391,173.5h1M383,155.5h1M391,139.5h1M377,149.5h1M372,139.5h1M383,183.5h1M379,187.5h1M374,162.5h1M376,178.5h1M371,138.5h1M384,173.5h1M381,165.5h1M379,161.5h1M382,177.5h1M383,171.5h1M383,157.5h1M372,141.5h1M382,178.5h1M376,165.5h1M387,169.5h1M380,164.5h1M378,179.5h1M382,184.5h1M393,175.5h1M370,167.5h1M378,194.5h1M369,170.5h1M371,171.5h1M374,157.5h1M386,173.5h1M389,163.5h1M384,153.5h1M381,143.5h1M400,161.5h1M367,155.5h1M380,165.5h1M381,185.5h1M377,166.5h1M383,163.5h1M371,175.5h1M381,148.5h1M372,151.5h1M391,143.5h1M375,172.5h1M368,156.5h1M368,151.5h1M376,148.5h1M377,134.5h1M381,149.5h1M374,142.5h1M399,161.5h1M375,141.5h1M382,156.5h1M379,154.5h1M384,163.5h1M369,167.5h1M370,151.5h1M386,171.5h1M384,184.5h1M384,162.5h1M389,161.5h1M373,170.5h1M388,154.5h1M389,154.5h1M377,155.5h1M379,185.5h1M380,160.5h1M370,142.5h1M366,168.5h1M383,177.5h1M376,149.5h1M375,161.5h1M393,176.5h1M389,189.5h1M368,159.5h1M377,159.5h1M372,168.5h1M381,172.5h1M379,131.5h1M381,184.5h1M374,169.5h1M380,163.5h1M396,132.5h1M371,183.5h1M381,176.5h1M374,168.5h1M375,163.5h1M385,174.5h1M385,168.5h1M386,153.5h1M372,170.5h1M367,182.5h1M384,170.5h1M394,182.5h1M389,151.5h1M395,157.5h1M391,185.5h1M372,175.5h1M383,169.5h1M372,148.5h1M368,162.5h1M372,140.5h1M375,171.5h1M372,160.5h1M376,182.5h1M388,180.5h1M373,165.5h1M369,155.5h1M377,183.5h1M390,186.5h1M388,190.5h1M383,190.5h1M369,187.5h1M384,182.5h1M387,189.5h1M371,189.5h1M371,193.5h1M374,183.5h1M384,187.5h1M378,186.5h1M387,187.5h1M365,182.5h1M370,180.5h1M392,190.5h1M370,194.5h1M376,187.5h1M378,183.5h1M389,181.5h1M374,182.5h1M368,185.5h1M385,188.5h1M376,191.5h1M368,186.5h1M386,180.5h1M368,183.5h1M371,181.5h1M385,186.5h1M369,182.5h1M392,188.5h1M390,181.5h1M362,185.5h1M377,190.5h1M386,191.5h1M391,186.5h1M375,179.5h1M375,187.5h1M386,192.5h1M374,177.5h1M377,185.5h1M368,189.5h1M367,191.5h1M370,187.5h1M369,177.5h1M385,193.5h1M379,189.5h1M384,186.5h1M384,188.5h1M373,184.5h1M378,176.5h1M377,194.5h1M372,181.5h1M380,186.5h1M372,191.5h1M380,192.5h1M393,174.5h1M391,187.5h1M392,183.5h1M382,189.5h1M396,180.5h1M378,185.5h1M377,186.5h1M379,186.5h1M373,180.5h1M395,188.5h1M365,186.5h1M379,191.5h1M378,193.5h1M387,176.5h1M375,175.5h1M380,184.5h1M363,183.5h1M369,194.5h1M369,193.5h1M385,194.5h1M374,193.5h1M372,193.5h1M384,194.5h1M372,194.5h1M383,194.5h1M375,193.5h1M368,193.5h1M380,194.5h1M370,193.5h1M382,194.5h1M368,194.5h1M381,193.5h1M373,193.5h1M367,194.5h1M383,193.5h1M375,194.5h1M373,194.5h1M377,193.5h1M376,193.5h1M384,193.5h1M367,193.5h1M379,194.5h1M411,106.5h1M425,108.5h1M403,119.5h1M400,106.5h1M416,108.5h1M409,104.5h1M396,104.5h1M407,97.5h1M405,110.5h1M394,116.5h1M401,108.5h1M411,113.5h1M417,99.5h1M419,105.5h1M427,105.5h1M401,111.5h1M422,106.5h1M420,114.5h1M424,100.5h1M402,107.5h1M455,105.5h1M400,104.5h1M423,108.5h1M413,97.5h1M448,98.5h1M425,104.5h1M399,98.5h1M414,118.5h1M425,115.5h1M433,111.5h1M449,108.5h1M420,111.5h1M430,104.5h1M403,106.5h1M424,95.5h1M439,103.5h1M394,98.5h1M403,103.5h1M443,95.5h1M452,100.5h1M419,95.5h1M440,101.5h1M405,107.5h1M415,94.5h1M433,101.5h1M410,109.5h1M422,104.5h1M402,115.5h1M394,113.5h1M432,111.5h1M411,100.5h1M412,102.5h1M407,109.5h1M408,109.5h1M434,102.5h1M435,103.5h1M399,103.5h1M415,104.5h1M424,107.5h1M401,115.5h1M400,112.5h1M442,104.5h1M409,109.5h1M401,113.5h1M423,101.5h1M403,112.5h1M411,110.5h1M399,113.5h1M397,104.5h1M422,103.5h1M425,106.5h1M394,95.5h1M429,101.5h1M436,101.5h1M410,104.5h1M403,102.5h1M437,99.5h1M414,105.5h1M455,99.5h1M413,113.5h1M420,106.5h1M452,102.5h1M414,110.5h1M413,106.5h1M398,108.5h1M419,111.5h1M438,103.5h1M394,101.5h1M415,103.5h1M429,108.5h1M406,98.5h1M397,106.5h1M445,103.5h1M440,96.5h1M421,112.5h1M401,106.5h1M437,96.5h1M455,97.5h1M406,109.5h1M424,112.5h1M410,108.5h1M416,107.5h1M404,106.5h1M410,113.5h1M402,99.5h1M413,109.5h1M416,105.5h1M403,110.5h1M426,109.5h1M425,101.5h1M438,111.5h1M412,112.5h1M397,109.5h1M435,104.5h1M434,107.5h1M429,113.5h1M426,108.5h1M398,119.5h1M395,104.5h1M409,107.5h1M423,102.5h1M429,99.5h1M405,108.5h1M404,100.5h1M449,103.5h1M416,109.5h1M411,104.5h1M454,101.5h1M425,109.5h1M403,115.5h1M446,105.5h1M429,106.5h1M437,111.5h1M402,104.5h1M455,103.5h1M438,102.5h1M423,105.5h1M415,100.5h1M393,105.5h1M403,105.5h1M435,108.5h1M401,112.5h1M441,106.5h1M394,102.5h1M442,107.5h1M447,107.5h1M455,107.5h1M407,111.5h1M420,103.5h1M403,104.5h1M446,95.5h1M412,105.5h1M434,101.5h1M410,107.5h1M411,109.5h1M421,98.5h1M444,102.5h1M406,106.5h1M396,109.5h1M409,97.5h1M399,106.5h1M421,106.5h1M421,111.5h1M439,105.5h1M435,101.5h1M436,106.5h1M423,107.5h1M427,100.5h1M450,106.5h1M439,102.5h1M398,97.5h1M417,105.5h1M415,109.5h1M420,109.5h1M443,106.5h1M453,103.5h1M407,106.5h1M404,111.5h1M411,112.5h1M424,106.5h1M436,102.5h1M441,112.5h1M401,103.5h1M441,103.5h1M415,116.5h1M428,108.5h1M425,105.5h1M435,110.5h1M430,120.5h1M439,106.5h1M438,110.5h1M439,114.5h1M407,103.5h1M437,106.5h1M435,109.5h1M402,106.5h1M418,109.5h1M417,110.5h1M428,95.5h1M414,108.5h1M408,108.5h1M424,98.5h1M432,112.5h1M395,105.5h1M412,104.5h1M415,105.5h1M437,102.5h1M456,99.5h1M436,111.5h1M428,99.5h1M414,107.5h1M408,98.5h1M440,97.5h1M439,98.5h1M408,110.5h1M443,104.5h1M399,104.5h1M424,108.5h1M406,113.5h1M410,118.5h1M396,115.5h1M427,96.5h1M398,114.5h1M438,109.5h1M420,107.5h1M400,111.5h1M427,99.5h1M393,107.5h1M398,111.5h1M419,103.5h1M435,98.5h1M433,107.5h1M394,103.5h1M411,103.5h1M401,114.5h1M413,112.5h1M432,101.5h1M405,102.5h1M451,104.5h1M444,97.5h1M455,100.5h1M434,108.5h1M438,105.5h1M421,110.5h1M394,108.5h1M448,108.5h1M449,109.5h1M418,104.5h1M433,97.5h1M393,103.5h1M437,95.5h1M393,110.5h1M400,103.5h1M412,111.5h1M448,104.5h1M401,107.5h1M413,110.5h1M419,108.5h1M411,101.5h1M448,96.5h1M446,107.5h1M416,106.5h1M398,113.5h1M444,100.5h1M416,99.5h1M418,112.5h1M434,112.5h1M450,100.5h1M451,102.5h1M417,91.5h1M399,111.5h1M430,109.5h1M397,93.5h1M421,109.5h1M423,106.5h1M400,102.5h1M402,118.5h1M413,102.5h1M416,115.5h1M417,104.5h1M407,104.5h1M446,110.5h1M429,105.5h1M426,102.5h1M426,112.5h1M405,103.5h1M414,113.5h1M443,109.5h1M447,104.5h1M416,116.5h1M406,105.5h1M444,104.5h1M411,108.5h1M457,100.5h1M401,101.5h1M444,101.5h1M418,115.5h1M420,105.5h1M396,103.5h1M406,104.5h1M439,100.5h1M411,102.5h1M422,112.5h1M432,103.5h1M425,113.5h1M448,110.5h1M434,104.5h1M409,118.5h1M424,101.5h1M410,101.5h1M397,108.5h1M429,102.5h1M434,105.5h1M440,98.5h1M432,94.5h1M418,107.5h1M436,105.5h1M434,100.5h1M432,105.5h1M393,102.5h1M416,113.5h1M439,112.5h1M453,106.5h1M445,116.5h1M433,103.5h1M425,112.5h1M435,107.5h1M393,100.5h1M411,105.5h1M457,99.5h1M404,102.5h1M418,101.5h1M420,100.5h1M456,96.5h1M438,96.5h1M431,106.5h1M395,110.5h1M426,98.5h1M404,104.5h1M443,102.5h1M442,108.5h1M416,104.5h1M443,100.5h1M440,121.5h1M396,114.5h1M425,107.5h1M403,109.5h1M399,100.5h1M407,102.5h1M410,111.5h1M404,107.5h1M411,107.5h1M454,103.5h1M394,111.5h1M436,103.5h1M440,104.5h1M404,97.5h1M438,101.5h1M394,105.5h1M427,103.5h1M420,102.5h1M406,112.5h1M414,109.5h1M438,112.5h1M422,97.5h1M397,102.5h1M403,101.5h1M399,105.5h1M408,104.5h1M455,111.5h1M411,115.5h1M405,121.5h1M402,110.5h1M404,110.5h1M400,94.5h1M407,110.5h1M404,98.5h1M412,103.5h1M420,110.5h1M396,100.5h1M400,120.5h1M417,103.5h1M402,105.5h1M408,95.5h1M405,112.5h1M398,106.5h1M405,101.5h1M434,106.5h1M409,108.5h1M417,108.5h1M427,107.5h1M394,107.5h1M439,111.5h1M398,104.5h1M433,106.5h1M429,98.5h1M405,105.5h1M397,100.5h1M449,99.5h1M411,125.5h1M441,101.5h1M419,100.5h1M450,95.5h1M430,108.5h1M433,105.5h1M445,112.5h1M397,101.5h1M421,113.5h1M412,107.5h1M417,114.5h1M427,111.5h1M429,111.5h1M446,106.5h1M413,111.5h1M422,105.5h1M415,115.5h1M444,106.5h1M410,96.5h1M401,104.5h1M416,101.5h1M423,110.5h1M395,97.5h1M434,98.5h1M432,90.5h1M441,94.5h1M453,102.5h1M396,108.5h1M406,108.5h1M443,112.5h1M426,110.5h1M402,102.5h1M422,102.5h1M433,100.5h1M409,112.5h1M415,107.5h1M449,100.5h1M438,98.5h1M438,95.5h1M417,115.5h1M413,105.5h1M427,102.5h1M438,114.5h1M428,102.5h1M403,107.5h1M425,96.5h1M442,97.5h1M399,125.5h1M403,97.5h1M421,103.5h1M413,100.5h1M436,104.5h1M405,113.5h1M414,103.5h1M417,100.5h1M430,93.5h1M399,107.5h1M399,114.5h1M395,101.5h1M443,110.5h1M457,90.5h1M406,115.5h1M440,103.5h1M407,114.5h1M448,106.5h1M405,116.5h1M430,103.5h1M408,106.5h1M435,116.5h1M445,107.5h1M450,99.5h1M424,102.5h1M404,115.5h1M404,109.5h1M422,101.5h1M413,93.5h1M448,115.5h1M398,95.5h1M434,110.5h1M405,114.5h1M440,113.5h1M421,104.5h1M426,101.5h1M428,104.5h1M402,101.5h1M435,106.5h1M442,101.5h1M414,106.5h1M432,96.5h1M431,105.5h1M393,106.5h1M433,109.5h1M441,105.5h1M435,97.5h1M423,98.5h1M433,112.5h1M457,108.5h1M448,107.5h1M446,102.5h1M411,93.5h1M403,114.5h1M437,107.5h1M400,114.5h1M424,105.5h1M438,108.5h1M422,96.5h1M401,118.5h1M445,86.5h1M404,113.5h1M398,103.5h1M410,106.5h1M413,116.5h1M452,99.5h1M415,110.5h1M399,101.5h1M423,91.5h1M435,100.5h1M424,103.5h1M441,102.5h1M424,109.5h1M438,107.5h1M423,103.5h1M424,104.5h1M448,103.5h1M396,102.5h1M425,111.5h1M417,112.5h1M448,97.5h1M434,99.5h1M435,95.5h1M409,111.5h1M399,118.5h1M437,104.5h1M419,107.5h1M409,114.5h1M409,119.5h1M406,102.5h1M446,97.5h1M408,112.5h1M431,96.5h1M412,108.5h1M448,117.5h1M409,105.5h1M431,97.5h1M452,94.5h1M402,103.5h1M428,105.5h1M438,118.5h1M431,99.5h1M397,107.5h1M405,96.5h1M415,101.5h1M402,112.5h1M432,97.5h1M431,103.5h1M402,93.5h1M413,104.5h1M445,104.5h1M424,99.5h1M405,104.5h1M431,109.5h1M399,96.5h1M429,100.5h1M428,103.5h1M423,100.5h1M412,106.5h1M433,110.5h1M453,104.5h1M453,98.5h1M421,99.5h1M456,100.5h1M453,111.5h1M434,95.5h1M401,105.5h1M395,100.5h1M406,103.5h1M406,114.5h1M442,98.5h1M423,114.5h1M442,99.5h1M426,103.5h1M400,109.5h1M407,105.5h1M415,108.5h1M442,102.5h1M405,106.5h1M402,116.5h1M436,98.5h1M408,101.5h1M412,99.5h1M398,98.5h1M452,97.5h1M395,103.5h1M440,106.5h1M418,100.5h1M402,111.5h1M417,111.5h1M433,99.5h1M429,107.5h1M394,114.5h1M411,114.5h1M413,107.5h1M419,109.5h1M409,115.5h1M404,112.5h1M441,109.5h1M397,103.5h1M414,112.5h1M408,105.5h1M445,101.5h1M410,117.5h1M436,100.5h1M447,103.5h1M423,112.5h1M434,111.5h1M418,108.5h1M421,108.5h1M440,107.5h1M399,115.5h1M432,104.5h1M410,102.5h1M405,109.5h1M411,111.5h1M429,97.5h1M417,102.5h1M435,113.5h1M452,96.5h1M399,119.5h1M432,98.5h1M417,106.5h1M442,106.5h1M414,104.5h1M420,101.5h1M409,110.5h1M454,107.5h1M409,106.5h1M426,107.5h1M427,113.5h1M417,109.5h1M405,115.5h1M410,103.5h1M433,108.5h1M447,102.5h1M442,109.5h1M400,100.5h1M432,108.5h1M441,114.5h1M416,97.5h1M409,127.5h1M398,130.5h1M419,124.5h1M417,149.5h1M421,147.5h1M410,135.5h1M412,141.5h1M397,140.5h1M424,126.5h1M402,121.5h1M399,128.5h1M398,123.5h1M436,145.5h1M427,125.5h1M435,153.5h1M446,140.5h1M445,151.5h1M411,136.5h1M410,144.5h1M402,117.5h1M448,122.5h1M438,133.5h1M397,117.5h1M407,149.5h1M412,117.5h1M422,124.5h1M425,142.5h1M440,144.5h1M410,129.5h1M421,125.5h1M406,142.5h1M421,124.5h1M426,146.5h1M449,155.5h1M415,121.5h1M417,138.5h1M426,133.5h1M410,149.5h1M414,127.5h1M400,130.5h1M411,121.5h1M396,124.5h1M449,145.5h1M446,135.5h1M419,143.5h1M436,130.5h1M435,121.5h1M396,133.5h1M450,121.5h1M418,136.5h1M415,127.5h1M445,126.5h1M402,145.5h1M409,117.5h1M422,118.5h1M404,128.5h1M422,119.5h1M423,145.5h1M446,127.5h1M434,152.5h1M399,120.5h1M423,117.5h1M405,125.5h1M426,145.5h1M416,135.5h1M415,117.5h1M440,119.5h1M394,136.5h1M424,135.5h1M397,133.5h1M394,138.5h1M400,119.5h1M427,138.5h1M431,134.5h1M412,131.5h1M405,144.5h1M408,118.5h1M414,143.5h1M405,140.5h1M419,146.5h1M441,128.5h1M421,149.5h1M432,120.5h1M402,154.5h1M422,143.5h1M396,138.5h1M439,146.5h1M425,154.5h1M402,133.5h1M430,128.5h1M399,124.5h1M446,147.5h1M416,122.5h1M408,132.5h1M415,154.5h1M450,118.5h1M427,119.5h1M405,128.5h1M423,135.5h1M402,148.5h1M451,153.5h1M407,139.5h1M444,131.5h1M416,119.5h1M436,139.5h1M418,118.5h1M418,123.5h1M442,121.5h1M415,155.5h1M402,137.5h1M419,155.5h1M402,120.5h1M427,121.5h1M436,155.5h1M412,152.5h1M413,133.5h1M404,140.5h1M413,126.5h1M423,123.5h1M452,140.5h1M423,143.5h1M401,117.5h1M428,143.5h1M404,147.5h1M395,142.5h1M432,131.5h1M401,139.5h1M440,129.5h1M450,126.5h1M434,135.5h1M452,124.5h1M447,134.5h1M429,126.5h1M444,128.5h1M404,145.5h1M414,131.5h1M418,142.5h1M417,134.5h1M401,120.5h1M412,146.5h1M429,121.5h1M432,142.5h1M404,157.5h1M407,129.5h1M426,141.5h1M405,129.5h1M436,129.5h1M401,132.5h1M411,137.5h1M427,136.5h1M402,130.5h1M419,132.5h1M440,128.5h1M419,147.5h1M416,117.5h1M408,129.5h1M416,138.5h1M403,143.5h1M417,145.5h1M417,128.5h1M419,141.5h1M433,118.5h1M423,141.5h1M434,126.5h1M420,122.5h1M402,123.5h1M440,117.5h1M412,126.5h1M448,132.5h1M445,131.5h1M442,143.5h1M425,122.5h1M393,135.5h1M442,148.5h1M413,154.5h1M435,124.5h1M418,153.5h1M446,123.5h1M401,146.5h1M421,121.5h1M414,140.5h1M423,140.5h1M433,123.5h1M395,129.5h1M432,143.5h1M398,134.5h1M417,121.5h1M451,127.5h1M412,144.5h1M441,140.5h1M409,125.5h1M443,142.5h1M395,141.5h1M449,122.5h1M414,152.5h1M406,138.5h1M403,149.5h1M415,134.5h1M405,122.5h1M414,117.5h1M401,145.5h1M400,151.5h1M405,123.5h1M415,120.5h1M411,130.5h1M436,140.5h1M408,142.5h1M430,137.5h1M404,126.5h1M404,122.5h1M410,122.5h1M398,121.5h1M434,146.5h1M430,149.5h1M409,126.5h1M443,122.5h1M425,135.5h1M406,143.5h1M406,146.5h1M416,132.5h1M444,133.5h1M428,150.5h1M404,121.5h1M433,125.5h1M430,141.5h1M396,134.5h1M406,133.5h1M421,153.5h1M414,123.5h1M441,142.5h1M423,142.5h1M394,140.5h1M412,118.5h1M400,140.5h1M401,141.5h1M408,147.5h1M442,122.5h1M429,130.5h1M401,138.5h1M444,144.5h1M419,130.5h1M430,135.5h1M420,141.5h1M407,127.5h1M443,130.5h1M412,132.5h1M432,150.5h1M413,137.5h1M424,132.5h1M429,135.5h1M408,126.5h1M418,125.5h1M414,156.5h1M429,147.5h1M426,147.5h1M415,129.5h1M414,124.5h1M437,134.5h1M426,143.5h1M403,139.5h1M434,117.5h1M396,139.5h1M415,131.5h1M443,133.5h1M416,124.5h1M410,127.5h1M402,153.5h1M423,125.5h1M430,121.5h1M412,155.5h1M406,122.5h1M408,153.5h1M428,120.5h1M440,120.5h1M446,156.5h1M422,132.5h1M405,137.5h1M439,129.5h1M402,132.5h1M398,152.5h1M445,140.5h1M415,151.5h1M396,118.5h1M395,155.5h1M424,141.5h1M408,136.5h1M445,117.5h1M419,144.5h1M424,143.5h1M428,121.5h1M403,141.5h1M442,147.5h1M445,139.5h1M435,143.5h1M412,130.5h1M431,122.5h1M425,139.5h1M451,141.5h1M430,124.5h1M449,124.5h1M423,138.5h1M431,126.5h1M420,119.5h1M426,148.5h1M424,134.5h1M408,120.5h1M422,141.5h1M412,128.5h1M426,152.5h1M431,120.5h1M424,154.5h1M402,139.5h1M428,127.5h1M438,136.5h1M449,118.5h1M409,129.5h1M410,140.5h1M414,137.5h1M366,115.5h1M367,111.5h1M369,189.5h1M372,130.5h1M361,133.5h1M367,134.5h1M364,189.5h1M372,167.5h1M370,111.5h1M361,121.5h1M369,114.5h1M368,188.5h1M372,192.5h1M365,132.5h1M374,191.5h1M365,153.5h1M375,145.5h1M362,163.5h1M369,128.5h1M361,164.5h1M368,160.5h1M366,181.5h1M367,149.5h1M368,191.5h1M361,114.5h1M361,190.5h1M367,160.5h1M366,151.5h1M373,173.5h1M362,114.5h1M362,140.5h1M366,145.5h1M367,132.5h1M370,128.5h1M364,171.5h1M364,136.5h1M370,147.5h1M368,179.5h1M374,109.5h1M367,139.5h1M368,190.5h1M371,154.5h1M366,120.5h1M415,172.5h1M419,162.5h1M412,182.5h1M399,162.5h1M407,191.5h1M406,193.5h1M436,168.5h1M425,191.5h1M425,175.5h1M432,193.5h1M422,166.5h1M400,162.5h1M424,165.5h1M396,168.5h1M435,166.5h1M439,189.5h1M428,174.5h1M412,168.5h1M423,78.5h1M469,83.5h1"/>
<rect class="ln" x="358.5" y="67.5" width="139" height="128"/>
<path class="ln" d="M354.1,195.5H358.5M358.5,195.5V199.3M354.1,163.5H358.5M393.5,195.5V199.3M354.1,131.5H358.5M428.5,195.5V199.3M354.1,99.5H358.5M462.5,195.5V199.3M354.1,67.5H358.5M497.5,195.5V199.3"/>
<text class="b t" x="351.3" y="201.5" font-size="8.6" text-anchor="end">10<tspan font-size="7.2" dy="-2.2">0</tspan></text>
<text class="b t" x="357.9" y="209.2" font-size="8.6" text-anchor="middle">10<tspan font-size="7.2" dy="-2.2">0</tspan></text>
<text class="b t" x="351.3" y="168.5" font-size="8.6" text-anchor="end">10<tspan font-size="7.2" dy="-2.2">1</tspan></text>
<text class="b t" x="392.6" y="209.2" font-size="8.6" text-anchor="middle">10<tspan font-size="7.2" dy="-2.2">1</tspan></text>
<text class="b t" x="351.3" y="137.6" font-size="8.6" text-anchor="end">10<tspan font-size="7.2" dy="-2.2">2</tspan></text>
<text class="b t" x="427.4" y="209.2" font-size="8.6" text-anchor="middle">10<tspan font-size="7.2" dy="-2.2">2</tspan></text>
<text class="b t" x="351.3" y="105.7" font-size="8.6" text-anchor="end">10<tspan font-size="7.2" dy="-2.2">3</tspan></text>
<text class="b t" x="462.1" y="209.2" font-size="8.6" text-anchor="middle">10<tspan font-size="7.2" dy="-2.2">3</tspan></text>
<text class="b t" x="351.3" y="74.4" font-size="8.6" text-anchor="end">10<tspan font-size="7.2" dy="-2.2">4</tspan></text>
<text class="b t" x="496.9" y="209.2" font-size="8.6" text-anchor="middle">10<tspan font-size="7.2" dy="-2.2">4</tspan></text>
<path class="gate" d="M396.5,85.5H468.5V159.5H396.5ZM396.5,114.5H468.5"/>
<text class="b" style="stroke-width:0.25px" x="467.9" y="114.4" font-size="9.6" text-anchor="end">33%</text>
<text class="b" style="stroke-width:0.25px" x="467.9" y="157.4" font-size="9.6" text-anchor="end">11%</text>
<text class="b" x="375.6" y="224.5" font-size="12.6">CD11b expression</text>
<text class="b" transform="translate(327.8,132.7) rotate(-90)" font-size="12.6" text-anchor="middle">B220 expression</text>
<path class="dots" stroke-width="1" d="M166,298.5h1M162,300.5h1M169,296.5h1M163,294.5h1M164,299.5h1M156,299.5h1M158,306.5h1M158,296.5h1M157,298.5h1M157,300.5h1M156,302.5h1M165,296.5h1M155,300.5h1M156,298.5h1M163,298.5h1M171,295.5h1M167,294.5h1M156,306.5h1M163,297.5h1M162,298.5h1M169,290.5h1M152,305.5h1M163,302.5h1M156,304.5h1M149,304.5h1M169,298.5h1M165,298.5h1M163,296.5h1M167,295.5h1M163,292.5h1M161,297.5h1M160,294.5h1M159,301.5h1M166,301.5h1M167,291.5h1M157,293.5h1M161,304.5h1M162,296.5h1M157,303.5h1M167,298.5h1M156,297.5h1M164,296.5h1M161,299.5h1M172,297.5h1M155,299.5h1M154,301.5h1M150,303.5h1M165,292.5h1M164,298.5h1M167,293.5h1M169,294.5h1M155,294.5h1M168,294.5h1M159,300.5h1M159,302.5h1M162,299.5h1M163,295.5h1M158,302.5h1M156,301.5h1M160,302.5h1M158,291.5h1M162,302.5h1M158,297.5h1M172,294.5h1M154,304.5h1M158,298.5h1M168,292.5h1M158,300.5h1M157,304.5h1M155,303.5h1M159,297.5h1M163,300.5h1M160,295.5h1M166,296.5h1M160,297.5h1M161,295.5h1M158,301.5h1M160,303.5h1M161,296.5h1M168,302.5h1M148,306.5h1M165,304.5h1M166,297.5h1M159,299.5h1M153,300.5h1M165,299.5h1M160,298.5h1M167,302.5h1M169,291.5h1M168,293.5h1M161,300.5h1M169,299.5h1M164,292.5h1M164,294.5h1M173,288.5h1M156,303.5h1M164,297.5h1M166,291.5h1M162,292.5h1M171,298.5h1M173,296.5h1M165,293.5h1M165,301.5h1M154,308.5h1M148,300.5h1M167,299.5h1M158,299.5h1M167,297.5h1M154,300.5h1M153,304.5h1M165,297.5h1M151,306.5h1M160,300.5h1M169,301.5h1M164,293.5h1M159,306.5h1M154,302.5h1M171,299.5h1M158,304.5h1M160,301.5h1M162,294.5h1M158,293.5h1M159,296.5h1M164,306.5h1M166,293.5h1M155,302.5h1M162,303.5h1M168,296.5h1M162,297.5h1M155,305.5h1M167,301.5h1M161,302.5h1M165,295.5h1M169,295.5h1M160,299.5h1M149,308.5h1M147,304.5h1M166,294.5h1M166,295.5h1M151,294.5h1M148,296.5h1M159,292.5h1M170,291.5h1M161,305.5h1M151,304.5h1M168,290.5h1M156,300.5h1M168,299.5h1M160,296.5h1M167,296.5h1M162,301.5h1M154,295.5h1M152,296.5h1M162,305.5h1M159,287.5h1M171,300.5h1M154,299.5h1M165,294.5h1M152,304.5h1M165,305.5h1M163,290.5h1M168,300.5h1M153,302.5h1M170,293.5h1M171,289.5h1M168,295.5h1M168,291.5h1M159,293.5h1M157,301.5h1M153,305.5h1M166,290.5h1M155,304.5h1M162,295.5h1M164,295.5h1M161,294.5h1M163,293.5h1M168,298.5h1M151,299.5h1M156,307.5h1M157,305.5h1M152,297.5h1M158,295.5h1M158,308.5h1M155,295.5h1M168,297.5h1M165,302.5h1M157,290.5h1M166,302.5h1M165,290.5h1M157,297.5h1M152,300.5h1M159,294.5h1M159,295.5h1M159,304.5h1M154,297.5h1M157,299.5h1M156,290.5h1M169,300.5h1M163,301.5h1M154,298.5h1M155,308.5h1M161,298.5h1M164,302.5h1M170,297.5h1M153,303.5h1M159,305.5h1M166,299.5h1M166,300.5h1M154,305.5h1M161,301.5h1M159,303.5h1M156,296.5h1M157,296.5h1M167,300.5h1M160,291.5h1M152,303.5h1M151,309.5h1M163,304.5h1M154,306.5h1M162,304.5h1M164,300.5h1M153,293.5h1M160,293.5h1M148,303.5h1M149,299.5h1M155,301.5h1M166,304.5h1M152,299.5h1M163,299.5h1M152,301.5h1M169,293.5h1M172,295.5h1M161,292.5h1M176,296.5h1M157,302.5h1M175,296.5h1M164,308.5h1M162,293.5h1M167,288.5h1M153,306.5h1M165,289.5h1M155,298.5h1M153,301.5h1M170,294.5h1M160,306.5h1M155,307.5h1M162,306.5h1M175,299.5h1M158,303.5h1M165,300.5h1M154,307.5h1M160,305.5h1M151,303.5h1M170,295.5h1M150,301.5h1M166,287.5h1M156,305.5h1M172,290.5h1M171,294.5h1M161,303.5h1M157,295.5h1M162,290.5h1M152,302.5h1M170,298.5h1M157,294.5h1M174,289.5h1M147,310.5h1M172,301.5h1M164,304.5h1M173,297.5h1M173,301.5h1M169,292.5h1M148,305.5h1M149,301.5h1M154,303.5h1M170,288.5h1M173,290.5h1M156,291.5h1M151,297.5h1M164,303.5h1M165,291.5h1M147,305.5h1M151,302.5h1M164,291.5h1M156,308.5h1M168,288.5h1M173,300.5h1M166,303.5h1M170,300.5h1M171,296.5h1M167,287.5h1M153,295.5h1M167,292.5h1M156,295.5h1M165,303.5h1M175,288.5h1M167,290.5h1M150,302.5h1M164,288.5h1M174,294.5h1M169,297.5h1M172,293.5h1M148,301.5h1M152,308.5h1M169,288.5h1M164,301.5h1M162,291.5h1M171,293.5h1M163,303.5h1M162,287.5h1M157,306.5h1M159,298.5h1M157,308.5h1M160,290.5h1M172,292.5h1M155,296.5h1M146,306.5h1M167,305.5h1M155,306.5h1M151,296.5h1M170,292.5h1M156,293.5h1M158,289.5h1M166,305.5h1M160,304.5h1M161,306.5h1M152,292.5h1M163,291.5h1M152,295.5h1M148,307.5h1M173,292.5h1M156,294.5h1M150,298.5h1M150,299.5h1M159,307.5h1M150,304.5h1M170,296.5h1M170,299.5h1M164,289.5h1M176,287.5h1M153,298.5h1M152,307.5h1M153,299.5h1M154,294.5h1M159,291.5h1M171,301.5h1M149,309.5h1M153,297.5h1M153,307.5h1M169,289.5h1M149,300.5h1M161,293.5h1M166,292.5h1M148,302.5h1M176,298.5h1M171,292.5h1M171,297.5h1M155,297.5h1M166,288.5h1M151,305.5h1M153,312.5h1M150,297.5h1M160,292.5h1M150,296.5h1M158,290.5h1M172,288.5h1M150,307.5h1M177,295.5h1M151,307.5h1M149,302.5h1M158,294.5h1M158,292.5h1M147,303.5h1M161,307.5h1M159,309.5h1M164,307.5h1M153,308.5h1M173,289.5h1M172,298.5h1M150,300.5h1M163,308.5h1M164,305.5h1M173,298.5h1M173,303.5h1M168,301.5h1M163,305.5h1M149,305.5h1M161,289.5h1M174,286.5h1M147,306.5h1M151,298.5h1M180,293.5h1M151,300.5h1M167,304.5h1M172,289.5h1M180,295.5h1M154,309.5h1M169,302.5h1M160,307.5h1M156,310.5h1M167,309.5h1M152,312.5h1M147,298.5h1M149,306.5h1M156,292.5h1M160,312.5h1M155,309.5h1M150,295.5h1M155,314.5h1M158,288.5h1M165,314.5h1M158,310.5h1M159,308.5h1M146,304.5h1M173,295.5h1M174,292.5h1M148,310.5h1M159,288.5h1M161,308.5h1M149,307.5h1M174,281.5h1M153,288.5h1M157,292.5h1M148,311.5h1M146,308.5h1M154,313.5h1M157,311.5h1M163,311.5h1M160,309.5h1M147,308.5h1M168,306.5h1M172,307.5h1M169,303.5h1M182,295.5h1M176,294.5h1M168,289.5h1M152,306.5h1M178,301.5h1M155,329.5h1M172,302.5h1M171,302.5h1M151,308.5h1M168,305.5h1M161,284.5h1M158,305.5h1M147,294.5h1M165,306.5h1M170,290.5h1M152,293.5h1M147,307.5h1M165,307.5h1M171,291.5h1M162,315.5h1M149,292.5h1M157,309.5h1M173,305.5h1M157,307.5h1M164,311.5h1M165,310.5h1M162,307.5h1M170,289.5h1M162,308.5h1M168,284.5h1M175,294.5h1M147,301.5h1M153,296.5h1M177,291.5h1M174,290.5h1M147,296.5h1M149,318.5h1M174,283.5h1M151,295.5h1M153,290.5h1M182,291.5h1M176,289.5h1M166,306.5h1M148,308.5h1M152,298.5h1M151,288.5h1M177,292.5h1M157,319.5h1M157,316.5h1M154,317.5h1M162,323.5h1M161,311.5h1M161,313.5h1M157,314.5h1M151,321.5h1M159,324.5h1M160,323.5h1M156,328.5h1M159,317.5h1M162,313.5h1M159,323.5h1M149,316.5h1M161,316.5h1M160,315.5h1M149,320.5h1M154,318.5h1M159,330.5h1M152,321.5h1M158,316.5h1M153,311.5h1M155,315.5h1M160,317.5h1M150,305.5h1M157,327.5h1M149,303.5h1M157,315.5h1M171,314.5h1M163,314.5h1M156,314.5h1M155,311.5h1M150,320.5h1M150,306.5h1M163,312.5h1M175,309.5h1M167,317.5h1M148,318.5h1M160,321.5h1M158,322.5h1M156,318.5h1M161,312.5h1M154,320.5h1M152,313.5h1M152,325.5h1M165,315.5h1M149,313.5h1M150,313.5h1M156,331.5h1M154,325.5h1M160,332.5h1M159,340.5h1M151,352.5h1M158,333.5h1M153,337.5h1M152,315.5h1M180,289.5h1M194,284.5h1M190,284.5h1M193,285.5h1M184,279.5h1M187,286.5h1M185,279.5h1M186,286.5h1M196,280.5h1M197,282.5h1M201,275.5h1M187,287.5h1M184,290.5h1M187,289.5h1M191,289.5h1M196,283.5h1M194,277.5h1M189,283.5h1M188,283.5h1M183,291.5h1M187,283.5h1M186,292.5h1M184,285.5h1M181,282.5h1M185,274.5h1M181,279.5h1M192,284.5h1M163,270.5h1M162,370.5h1M157,331.5h1M153,338.5h1"/>
<rect class="ln" x="145.5" y="247.5" width="137" height="128"/>
<path class="ln" d="M141.1,375.5H145.5M145.5,375.5V379.3M141.1,343.5H145.5M179.5,375.5V379.3M141.1,311.5H145.5M214.5,375.5V379.3M141.1,279.5H145.5M248.5,375.5V379.3M141.1,247.5H145.5M282.5,375.5V379.3"/>
<text class="b t" x="138.3" y="381.5" font-size="8.6" text-anchor="end">10<tspan font-size="7.2" dy="-2.2">0</tspan></text>
<text class="b t" x="144.9" y="390" font-size="8.6" text-anchor="middle">10<tspan font-size="7.2" dy="-2.2">0</tspan></text>
<text class="b t" x="138.3" y="348.5" font-size="8.6" text-anchor="end">10<tspan font-size="7.2" dy="-2.2">1</tspan></text>
<text class="b t" x="179.2" y="390" font-size="8.6" text-anchor="middle">10<tspan font-size="7.2" dy="-2.2">1</tspan></text>
<text class="b t" x="138.3" y="317.6" font-size="8.6" text-anchor="end">10<tspan font-size="7.2" dy="-2.2">2</tspan></text>
<text class="b t" x="213.4" y="390" font-size="8.6" text-anchor="middle">10<tspan font-size="7.2" dy="-2.2">2</tspan></text>
<text class="b t" x="138.3" y="285.7" font-size="8.6" text-anchor="end">10<tspan font-size="7.2" dy="-2.2">3</tspan></text>
<text class="b t" x="247.7" y="390" font-size="8.6" text-anchor="middle">10<tspan font-size="7.2" dy="-2.2">3</tspan></text>
<text class="b t" x="138.3" y="254.4" font-size="8.6" text-anchor="end">10<tspan font-size="7.2" dy="-2.2">4</tspan></text>
<text class="b t" x="281.9" y="390" font-size="8.6" text-anchor="middle">10<tspan font-size="7.2" dy="-2.2">4</tspan></text>
<path class="gate" d="M178.5,265.5H250.5V339.5H178.5ZM178.5,295.5H250.5"/>
<text class="b" style="stroke-width:0.25px" x="249.9" y="293.6" font-size="9.6" text-anchor="end">1%</text>
<text class="b" style="stroke-width:0.25px" x="249.9" y="338.2" font-size="9.6" text-anchor="end">0%</text>
<text class="b" x="162" y="405.5" font-size="12.6">CD11b expression</text>
<text class="b" transform="translate(114.5,313.3) rotate(-90)" font-size="12.6" text-anchor="middle">B220 expression</text>
<path class="dots" stroke-width="1" d="M376,293.5h1M376,295.5h1M386,292.5h1M391,289.5h1M372,290.5h1M387,298.5h1M388,289.5h1M376,298.5h1M382,292.5h1M376,291.5h1M378,303.5h1M382,289.5h1M373,297.5h1M380,299.5h1M388,295.5h1M384,293.5h1M385,288.5h1M388,300.5h1M376,296.5h1M380,291.5h1M395,288.5h1M385,292.5h1M376,294.5h1M383,287.5h1M382,287.5h1M385,298.5h1M372,298.5h1M371,298.5h1M385,287.5h1M381,293.5h1M374,300.5h1M386,294.5h1M384,287.5h1M379,294.5h1M386,296.5h1M381,290.5h1M379,292.5h1M384,297.5h1M377,298.5h1M384,288.5h1M373,294.5h1M377,295.5h1M376,282.5h1M385,289.5h1M370,298.5h1M376,301.5h1M379,288.5h1M381,292.5h1M378,296.5h1M386,301.5h1M388,304.5h1M380,292.5h1M384,292.5h1M383,291.5h1M378,289.5h1M376,297.5h1M369,291.5h1M377,302.5h1M387,291.5h1M388,293.5h1M380,297.5h1M388,305.5h1M378,290.5h1M382,294.5h1M387,287.5h1M385,297.5h1M378,288.5h1M381,296.5h1M386,295.5h1M391,293.5h1M382,293.5h1M379,297.5h1M377,303.5h1M376,292.5h1M372,292.5h1M377,306.5h1M382,302.5h1M389,294.5h1M375,295.5h1M387,288.5h1M381,291.5h1M381,305.5h1M385,284.5h1M385,291.5h1M380,288.5h1M383,298.5h1M375,296.5h1M375,284.5h1M379,293.5h1M383,299.5h1M388,297.5h1M368,297.5h1M373,296.5h1M387,293.5h1M391,285.5h1M383,295.5h1M385,300.5h1M393,285.5h1M392,289.5h1M371,296.5h1M395,282.5h1M377,293.5h1M377,304.5h1M376,299.5h1M383,290.5h1M384,295.5h1M384,282.5h1M375,292.5h1M372,291.5h1M363,305.5h1M378,295.5h1M370,291.5h1M367,292.5h1M376,288.5h1M381,304.5h1M388,290.5h1M375,294.5h1M383,293.5h1M384,305.5h1M379,300.5h1M380,286.5h1M391,298.5h1M370,301.5h1M375,291.5h1M387,290.5h1M384,296.5h1M383,294.5h1M377,294.5h1M387,297.5h1M382,291.5h1M365,288.5h1M370,296.5h1M383,289.5h1M387,292.5h1M374,291.5h1M379,301.5h1M381,297.5h1M385,290.5h1M374,298.5h1M384,278.5h1M379,289.5h1M375,302.5h1M372,309.5h1M380,298.5h1M377,301.5h1M396,281.5h1M389,288.5h1M382,296.5h1M369,298.5h1M383,296.5h1M380,304.5h1M380,290.5h1M391,281.5h1M369,294.5h1M381,299.5h1M382,284.5h1M379,287.5h1M388,291.5h1M373,290.5h1M377,299.5h1M394,295.5h1M375,304.5h1M367,289.5h1M378,299.5h1M386,286.5h1M388,285.5h1M381,295.5h1M383,301.5h1M381,303.5h1M382,298.5h1M385,293.5h1M373,293.5h1M388,278.5h1M379,285.5h1M384,294.5h1M377,300.5h1M385,285.5h1M377,292.5h1M394,292.5h1M378,297.5h1M380,287.5h1M379,299.5h1M374,302.5h1M383,284.5h1M382,306.5h1M378,301.5h1M385,286.5h1M379,303.5h1M386,290.5h1M398,286.5h1M382,301.5h1M384,299.5h1M370,299.5h1M369,299.5h1M377,290.5h1M373,295.5h1M387,284.5h1M380,300.5h1M384,300.5h1M391,284.5h1M378,291.5h1M374,296.5h1M386,287.5h1M368,307.5h1M382,282.5h1M391,294.5h1M377,296.5h1M383,292.5h1M372,287.5h1M386,297.5h1M372,302.5h1M394,288.5h1M365,301.5h1M386,288.5h1M379,298.5h1M377,305.5h1M388,302.5h1M382,290.5h1M379,291.5h1M378,298.5h1M373,301.5h1M379,296.5h1M380,283.5h1M378,294.5h1M387,283.5h1M374,293.5h1M380,293.5h1M374,289.5h1M374,295.5h1M372,289.5h1M388,283.5h1M390,289.5h1M381,287.5h1M387,296.5h1M380,289.5h1M389,296.5h1M384,298.5h1M377,289.5h1M386,289.5h1M392,293.5h1M388,298.5h1M391,295.5h1M383,288.5h1M370,306.5h1M388,292.5h1M389,292.5h1M379,302.5h1M383,285.5h1M381,288.5h1M389,281.5h1M395,296.5h1M380,295.5h1M376,302.5h1M375,298.5h1M390,285.5h1M379,295.5h1M371,291.5h1M395,295.5h1M375,305.5h1M381,286.5h1M379,304.5h1M382,295.5h1M370,287.5h1M373,291.5h1M382,285.5h1M371,301.5h1M380,301.5h1M375,293.5h1M380,296.5h1M399,292.5h1M387,289.5h1M388,280.5h1M378,300.5h1M373,304.5h1M381,302.5h1M386,298.5h1M388,288.5h1M384,302.5h1M384,290.5h1M386,284.5h1M380,294.5h1M391,303.5h1M382,297.5h1M370,290.5h1M393,289.5h1M382,300.5h1M374,285.5h1M383,282.5h1M371,288.5h1M381,298.5h1M390,294.5h1M373,292.5h1M384,284.5h1M380,302.5h1M390,287.5h1M377,291.5h1M373,286.5h1M384,291.5h1M390,292.5h1M382,288.5h1M386,293.5h1M396,286.5h1M370,292.5h1M380,303.5h1M366,298.5h1M383,286.5h1M374,290.5h1M381,294.5h1M390,288.5h1M367,294.5h1M375,299.5h1M371,303.5h1M385,294.5h1M390,290.5h1M378,293.5h1M369,297.5h1M369,302.5h1M385,302.5h1M372,286.5h1M375,297.5h1M388,294.5h1M392,288.5h1M392,294.5h1M370,304.5h1M390,291.5h1M378,292.5h1M394,286.5h1M391,296.5h1M396,295.5h1M373,300.5h1M371,293.5h1M371,290.5h1M375,287.5h1M374,288.5h1M369,295.5h1M389,293.5h1M376,286.5h1M394,291.5h1M374,301.5h1M369,300.5h1M375,303.5h1M388,299.5h1M393,287.5h1M372,295.5h1M369,296.5h1M392,303.5h1M375,301.5h1M363,293.5h1M385,303.5h1M378,304.5h1M380,279.5h1M394,296.5h1M370,302.5h1M378,308.5h1M376,284.5h1M366,297.5h1M397,290.5h1M379,286.5h1M394,290.5h1M377,308.5h1M382,305.5h1M379,306.5h1M390,295.5h1M383,305.5h1M376,289.5h1M378,285.5h1M380,282.5h1M377,288.5h1M392,282.5h1M389,299.5h1M385,283.5h1M387,286.5h1M367,288.5h1M370,294.5h1M381,301.5h1M396,285.5h1M378,287.5h1M375,300.5h1M371,297.5h1M385,295.5h1M372,296.5h1M391,283.5h1M389,302.5h1M375,309.5h1M389,298.5h1M387,302.5h1M376,303.5h1M371,299.5h1M386,283.5h1M385,296.5h1M398,285.5h1M383,297.5h1M397,281.5h1M383,300.5h1M390,293.5h1M387,294.5h1M368,292.5h1M391,290.5h1M388,301.5h1M374,287.5h1M384,301.5h1M383,307.5h1M370,305.5h1M365,302.5h1M389,289.5h1M368,281.5h1M377,297.5h1M386,291.5h1M372,293.5h1M376,290.5h1M385,282.5h1M390,297.5h1M369,286.5h1M395,284.5h1M372,306.5h1M372,299.5h1M389,277.5h1M389,291.5h1M376,287.5h1M389,283.5h1M389,295.5h1M374,299.5h1M376,300.5h1M363,299.5h1M394,299.5h1M395,291.5h1M385,299.5h1M388,279.5h1M372,294.5h1M382,299.5h1M392,287.5h1M385,275.5h1M381,300.5h1M369,304.5h1M371,302.5h1M392,292.5h1M373,306.5h1M389,290.5h1M380,307.5h1M378,302.5h1M374,294.5h1M392,291.5h1M388,296.5h1M385,306.5h1M387,299.5h1M390,296.5h1M375,288.5h1M373,311.5h1M371,286.5h1M370,297.5h1M386,299.5h1M391,292.5h1M384,285.5h1M389,284.5h1M374,310.5h1M386,285.5h1M370,295.5h1M380,285.5h1M374,286.5h1M360,307.5h1M388,281.5h1M383,302.5h1M389,285.5h1M387,300.5h1M367,300.5h1M367,301.5h1M370,288.5h1M360,297.5h1M381,289.5h1M380,281.5h1M361,301.5h1M382,308.5h1M369,301.5h1M372,312.5h1M374,297.5h1M374,307.5h1M368,301.5h1M382,283.5h1M376,304.5h1M392,285.5h1M366,296.5h1M372,301.5h1M391,291.5h1M377,287.5h1M380,306.5h1M384,281.5h1M378,307.5h1M382,307.5h1M384,286.5h1M371,289.5h1M391,286.5h1M389,287.5h1M374,292.5h1M375,307.5h1M371,305.5h1M387,306.5h1M390,284.5h1M368,295.5h1M368,302.5h1M387,301.5h1M383,303.5h1M377,279.5h1M364,296.5h1M378,286.5h1M385,305.5h1M383,308.5h1M372,311.5h1M383,306.5h1M368,306.5h1M380,308.5h1M371,308.5h1M376,305.5h1M371,294.5h1M393,292.5h1M376,315.5h1M381,307.5h1M378,312.5h1M389,309.5h1M399,303.5h1M379,315.5h1M364,309.5h1M373,319.5h1M390,304.5h1M371,311.5h1M388,318.5h1M381,311.5h1M391,304.5h1M379,305.5h1M388,303.5h1M375,317.5h1M394,294.5h1M390,302.5h1M392,295.5h1M394,304.5h1M376,309.5h1M376,306.5h1M390,300.5h1M394,297.5h1M377,309.5h1M386,303.5h1M361,299.5h1M360,309.5h1M386,305.5h1M386,306.5h1M381,306.5h1M390,309.5h1M376,310.5h1M376,318.5h1M376,308.5h1M391,278.5h1M380,305.5h1M378,305.5h1M370,280.5h1M385,321.5h1M390,308.5h1M387,285.5h1M367,272.5h1M373,303.5h1M368,315.5h1M386,302.5h1M389,307.5h1M370,303.5h1M371,279.5h1M387,303.5h1M392,302.5h1M368,316.5h1M368,289.5h1M366,287.5h1M369,279.5h1M374,304.5h1M383,281.5h1M395,306.5h1M391,315.5h1M386,307.5h1M373,318.5h1M379,309.5h1M390,283.5h1M398,310.5h1M380,314.5h1M385,310.5h1M373,278.5h1M371,284.5h1M388,312.5h1M384,283.5h1M386,308.5h1M395,293.5h1M391,299.5h1M370,289.5h1M374,305.5h1M382,278.5h1M377,320.5h1M369,293.5h1M371,295.5h1M389,301.5h1M376,324.5h1M377,307.5h1M384,310.5h1M378,283.5h1M375,310.5h1M386,280.5h1M375,306.5h1M396,301.5h1M390,314.5h1M387,281.5h1M377,286.5h1M390,298.5h1M385,313.5h1M373,309.5h1M404,290.5h1M381,285.5h1M388,315.5h1M365,294.5h1M384,317.5h1M384,312.5h1M361,298.5h1M378,284.5h1M388,316.5h1M391,301.5h1M365,305.5h1M397,316.5h1M365,300.5h1M381,313.5h1M383,280.5h1M369,290.5h1M380,313.5h1M373,307.5h1M379,319.5h1M371,309.5h1M390,279.5h1M364,301.5h1M384,303.5h1M362,300.5h1M373,299.5h1M376,312.5h1M368,296.5h1M374,284.5h1M377,313.5h1M378,316.5h1M392,298.5h1M370,278.5h1M373,298.5h1M378,313.5h1M367,310.5h1M374,306.5h1M388,313.5h1M387,308.5h1M390,310.5h1M384,306.5h1M373,315.5h1M385,317.5h1M379,316.5h1M388,309.5h1M368,303.5h1M382,309.5h1M380,312.5h1M371,310.5h1M369,307.5h1M390,312.5h1M372,310.5h1M385,314.5h1M387,305.5h1M381,309.5h1M386,316.5h1M376,316.5h1M374,309.5h1M375,315.5h1M371,285.5h1M391,302.5h1M369,305.5h1M380,309.5h1M389,297.5h1M383,319.5h1M381,314.5h1M370,300.5h1M381,310.5h1M378,310.5h1M375,308.5h1M393,311.5h1M373,310.5h1M380,310.5h1M393,307.5h1M387,318.5h1M381,312.5h1M386,313.5h1M366,330.5h1M385,301.5h1M371,307.5h1M380,311.5h1M379,310.5h1M383,304.5h1M381,315.5h1M372,308.5h1M369,303.5h1M375,316.5h1M386,304.5h1M392,315.5h1M373,305.5h1M372,303.5h1M382,310.5h1M369,306.5h1M375,311.5h1M368,324.5h1M388,307.5h1M384,311.5h1M369,292.5h1M375,313.5h1M379,307.5h1M384,318.5h1M382,320.5h1M365,314.5h1M382,312.5h1M391,306.5h1M371,313.5h1M380,284.5h1M373,302.5h1M384,289.5h1M374,303.5h1M371,304.5h1M378,317.5h1M387,309.5h1M384,304.5h1M387,314.5h1M374,315.5h1M380,325.5h1M374,313.5h1M391,310.5h1M387,312.5h1M378,314.5h1M383,327.5h1M374,312.5h1M388,308.5h1M375,314.5h1M377,310.5h1M368,299.5h1M380,316.5h1M371,306.5h1M368,290.5h1M379,317.5h1M385,307.5h1M366,293.5h1M371,300.5h1M371,314.5h1M382,318.5h1M377,314.5h1M389,308.5h1M378,315.5h1M377,311.5h1M374,319.5h1M374,317.5h1M379,312.5h1M375,290.5h1M381,316.5h1M370,309.5h1M384,307.5h1M371,315.5h1M383,318.5h1M373,314.5h1M372,324.5h1M385,340.5h1M382,336.5h1M370,329.5h1M369,333.5h1M384,321.5h1M381,325.5h1M372,315.5h1M374,322.5h1M378,324.5h1M377,330.5h1M371,333.5h1M390,321.5h1M378,329.5h1M375,326.5h1M380,332.5h1M380,328.5h1M369,310.5h1M379,320.5h1M376,323.5h1M371,339.5h1M380,318.5h1M374,314.5h1M379,323.5h1M381,324.5h1M375,322.5h1M386,325.5h1M376,330.5h1M385,336.5h1M378,306.5h1M378,323.5h1M368,323.5h1M382,326.5h1M373,316.5h1M384,324.5h1M388,335.5h1M368,304.5h1M378,326.5h1M376,319.5h1M375,329.5h1M371,317.5h1M388,332.5h1M377,321.5h1M382,324.5h1M373,337.5h1M379,325.5h1M381,322.5h1M378,321.5h1M386,345.5h1M380,315.5h1M379,328.5h1M384,331.5h1M367,322.5h1M387,351.5h1M373,317.5h1M380,321.5h1M371,320.5h1M379,331.5h1M372,317.5h1M372,320.5h1M380,326.5h1M380,335.5h1M372,329.5h1M369,313.5h1M376,335.5h1M384,322.5h1M373,322.5h1M367,315.5h1M374,316.5h1M376,321.5h1M385,311.5h1M372,319.5h1M376,326.5h1M375,327.5h1M386,320.5h1M388,319.5h1M377,317.5h1M369,314.5h1M384,342.5h1M385,335.5h1M383,324.5h1M385,332.5h1M369,325.5h1M380,329.5h1M377,322.5h1M378,322.5h1M367,312.5h1M372,316.5h1M383,326.5h1M372,313.5h1M370,321.5h1M379,339.5h1M379,329.5h1M383,314.5h1M396,333.5h1M373,328.5h1M382,327.5h1M376,332.5h1M370,315.5h1M380,341.5h1M380,340.5h1M373,324.5h1M370,312.5h1M382,337.5h1M384,329.5h1M387,342.5h1M379,330.5h1M365,337.5h1M384,327.5h1M382,341.5h1M376,322.5h1M377,335.5h1M380,322.5h1M379,321.5h1M379,326.5h1M372,285.5h1M379,318.5h1M383,322.5h1M368,310.5h1M374,324.5h1M373,323.5h1M383,330.5h1M382,323.5h1M382,325.5h1M369,326.5h1M371,331.5h1M371,322.5h1M366,319.5h1M374,321.5h1M385,328.5h1M379,335.5h1M381,326.5h1M377,324.5h1M389,329.5h1M375,335.5h1M388,325.5h1M369,328.5h1M381,329.5h1M370,311.5h1M381,317.5h1M373,338.5h1M375,343.5h1M368,334.5h1M367,355.5h1M373,357.5h1M366,328.5h1M379,365.5h1M377,338.5h1M368,338.5h1M372,352.5h1M379,360.5h1M382,345.5h1M377,344.5h1M367,345.5h1M366,326.5h1M376,343.5h1M369,338.5h1M370,310.5h1M375,356.5h1M370,344.5h1M370,336.5h1M377,347.5h1M376,336.5h1M374,355.5h1M382,357.5h1M373,351.5h1M372,337.5h1M367,339.5h1M370,352.5h1M375,344.5h1M378,349.5h1M367,334.5h1M376,342.5h1M375,349.5h1M379,351.5h1M374,345.5h1M379,343.5h1M371,338.5h1M378,336.5h1M376,357.5h1M371,357.5h1M378,363.5h1M373,352.5h1M385,349.5h1M374,338.5h1M377,345.5h1M373,348.5h1M374,344.5h1M373,332.5h1M380,354.5h1M379,341.5h1M374,331.5h1M379,332.5h1M374,329.5h1M366,333.5h1M375,347.5h1M370,350.5h1M367,353.5h1M387,338.5h1M379,337.5h1M403,293.5h1M406,291.5h1M419,290.5h1M411,283.5h1M432,283.5h1M425,282.5h1M410,288.5h1M398,279.5h1M411,295.5h1M417,283.5h1M412,286.5h1M432,287.5h1M403,285.5h1M403,286.5h1M405,280.5h1M401,285.5h1M408,291.5h1M420,283.5h1M410,285.5h1M444,278.5h1M408,288.5h1M425,290.5h1M416,292.5h1M393,290.5h1M427,283.5h1M413,298.5h1M405,295.5h1M424,286.5h1M409,288.5h1M408,280.5h1M444,282.5h1M403,291.5h1M438,278.5h1M422,284.5h1M429,283.5h1M394,285.5h1M427,284.5h1M415,286.5h1M420,281.5h1M397,293.5h1M425,284.5h1M432,278.5h1M399,285.5h1M392,281.5h1M400,291.5h1M412,283.5h1M412,285.5h1M401,291.5h1M415,283.5h1M439,276.5h1M404,281.5h1M404,285.5h1M423,291.5h1M411,293.5h1M418,285.5h1M446,288.5h1M410,283.5h1M440,291.5h1M401,294.5h1M419,291.5h1M432,293.5h1M421,292.5h1M399,287.5h1M430,291.5h1M437,284.5h1M402,277.5h1M425,286.5h1M422,287.5h1M409,283.5h1M395,287.5h1M415,282.5h1M418,288.5h1M404,286.5h1M411,288.5h1M413,286.5h1M399,286.5h1M409,290.5h1M426,289.5h1M411,287.5h1M419,289.5h1M405,302.5h1M444,284.5h1M395,292.5h1M435,283.5h1M423,292.5h1M410,290.5h1M396,293.5h1M404,291.5h1M397,288.5h1M396,289.5h1M413,287.5h1M401,282.5h1M418,289.5h1M409,289.5h1M408,283.5h1M418,291.5h1M431,282.5h1M404,288.5h1M401,286.5h1M424,288.5h1M400,285.5h1M419,286.5h1M413,288.5h1M414,284.5h1M407,287.5h1M423,282.5h1M395,289.5h1M408,282.5h1M416,284.5h1M407,292.5h1M396,282.5h1M409,286.5h1M408,286.5h1M431,283.5h1M408,292.5h1M402,289.5h1M408,287.5h1M415,275.5h1M432,289.5h1M404,292.5h1M405,291.5h1M411,292.5h1M416,287.5h1M445,283.5h1M439,290.5h1M405,286.5h1M406,282.5h1M426,280.5h1M421,286.5h1M398,287.5h1M424,281.5h1M400,296.5h1M411,281.5h1M420,284.5h1M397,284.5h1M437,280.5h1M402,288.5h1M400,294.5h1M409,293.5h1M402,291.5h1M401,292.5h1M416,275.5h1M399,281.5h1M402,292.5h1M396,277.5h1M396,291.5h1M422,280.5h1M401,283.5h1M399,294.5h1M415,289.5h1M431,285.5h1M434,278.5h1M411,285.5h1M397,286.5h1M441,277.5h1M426,290.5h1M403,279.5h1M418,282.5h1M391,280.5h1M393,291.5h1M426,281.5h1M424,277.5h1M434,288.5h1M410,278.5h1M428,290.5h1M405,294.5h1M424,275.5h1M426,284.5h1M396,294.5h1M434,287.5h1M429,284.5h1M433,288.5h1M437,290.5h1M402,287.5h1M401,289.5h1M433,290.5h1M406,285.5h1M407,285.5h1M404,277.5h1M414,288.5h1M398,293.5h1M426,287.5h1M435,289.5h1M444,290.5h1M408,278.5h1M399,293.5h1M413,284.5h1M415,288.5h1M391,288.5h1M409,282.5h1M390,282.5h1M396,283.5h1M398,283.5h1M436,283.5h1M443,284.5h1M395,290.5h1M409,285.5h1M440,281.5h1M445,279.5h1M405,293.5h1M427,275.5h1M411,286.5h1M422,286.5h1M434,285.5h1M421,288.5h1M430,285.5h1M421,287.5h1M423,280.5h1M414,290.5h1M413,281.5h1M425,281.5h1M410,295.5h1M401,287.5h1M431,284.5h1M423,274.5h1M408,284.5h1M436,285.5h1M405,290.5h1M416,274.5h1M445,281.5h1M412,287.5h1M431,287.5h1M427,277.5h1M425,288.5h1M406,297.5h1M433,285.5h1M415,278.5h1M397,291.5h1M425,285.5h1M434,281.5h1M400,287.5h1M421,282.5h1M393,282.5h1M411,290.5h1M413,290.5h1M402,276.5h1M404,287.5h1M430,281.5h1M415,285.5h1M392,286.5h1M451,292.5h1M392,284.5h1M420,289.5h1M392,283.5h1M407,288.5h1M418,290.5h1M413,282.5h1M402,290.5h1M404,279.5h1M410,281.5h1M399,288.5h1M421,290.5h1M403,290.5h1M394,293.5h1M395,283.5h1M448,279.5h1M397,289.5h1M441,286.5h1M423,287.5h1M400,284.5h1M396,288.5h1M402,295.5h1M401,288.5h1M401,284.5h1M398,290.5h1M404,289.5h1M400,288.5h1M417,287.5h1M418,279.5h1M416,288.5h1M400,286.5h1M424,292.5h1M418,283.5h1M429,288.5h1M405,292.5h1M397,292.5h1M399,290.5h1M411,289.5h1M429,282.5h1M430,280.5h1M418,287.5h1M403,296.5h1M404,282.5h1M435,284.5h1M406,290.5h1M416,282.5h1M408,285.5h1M403,294.5h1M422,270.5h1M406,295.5h1M390,281.5h1M433,274.5h1M424,280.5h1M420,285.5h1M395,299.5h1M428,283.5h1M413,289.5h1M395,281.5h1M394,283.5h1M410,282.5h1M392,296.5h1M398,292.5h1M416,286.5h1M404,297.5h1M402,282.5h1M404,283.5h1M407,284.5h1M410,284.5h1M436,282.5h1M416,285.5h1M417,293.5h1M423,284.5h1M422,281.5h1M405,287.5h1M396,292.5h1M405,289.5h1M397,297.5h1M398,289.5h1M422,288.5h1M417,291.5h1M426,279.5h1M397,282.5h1M428,284.5h1M428,286.5h1M439,288.5h1M405,285.5h1M416,289.5h1M393,283.5h1M405,288.5h1M422,296.5h1M435,282.5h1M398,291.5h1M410,289.5h1M414,280.5h1M402,293.5h1M410,280.5h1M427,287.5h1M437,282.5h1M399,282.5h1M415,290.5h1M412,280.5h1M398,288.5h1M423,283.5h1M441,283.5h1M414,287.5h1M428,289.5h1M416,280.5h1M418,286.5h1M429,277.5h1M405,279.5h1M418,293.5h1M414,293.5h1M407,291.5h1M391,282.5h1M433,287.5h1M426,288.5h1M436,289.5h1M392,277.5h1M423,279.5h1M428,278.5h1M416,279.5h1M403,284.5h1M422,283.5h1M406,292.5h1M438,280.5h1M443,274.5h1M414,281.5h1M407,289.5h1M406,294.5h1M429,281.5h1M412,288.5h1M419,287.5h1M439,279.5h1M429,293.5h1M391,287.5h1M401,280.5h1M399,280.5h1M419,284.5h1M435,285.5h1M394,279.5h1M421,284.5h1M418,281.5h1M394,287.5h1M448,288.5h1M398,278.5h1M413,276.5h1M403,295.5h1M420,279.5h1M394,284.5h1M425,280.5h1M421,279.5h1M428,282.5h1M447,280.5h1M423,286.5h1M428,291.5h1M428,285.5h1M405,284.5h1M407,294.5h1M419,285.5h1M403,283.5h1M423,288.5h1M422,289.5h1M425,287.5h1M417,290.5h1M416,281.5h1M436,287.5h1M393,288.5h1M409,292.5h1M427,281.5h1M417,284.5h1M394,289.5h1M400,290.5h1M415,277.5h1M436,284.5h1M415,287.5h1M421,278.5h1M406,287.5h1M423,285.5h1M408,289.5h1M427,285.5h1M433,279.5h1M442,279.5h1M397,283.5h1M428,288.5h1M416,283.5h1M439,280.5h1M420,294.5h1M430,284.5h1M409,287.5h1M424,289.5h1M432,281.5h1M405,283.5h1M420,287.5h1M444,283.5h1M438,290.5h1M422,278.5h1M408,297.5h1M426,285.5h1M438,282.5h1M396,284.5h1M404,280.5h1M426,291.5h1M411,276.5h1M398,284.5h1M407,297.5h1M396,280.5h1M407,283.5h1M441,287.5h1M414,295.5h1M412,282.5h1M424,283.5h1M405,281.5h1M417,289.5h1M424,285.5h1M410,291.5h1M422,285.5h1M406,289.5h1M409,297.5h1M427,282.5h1M421,281.5h1M434,289.5h1M409,284.5h1M412,284.5h1M399,284.5h1M432,280.5h1M420,286.5h1M430,279.5h1M419,278.5h1M393,286.5h1M422,291.5h1M409,294.5h1M403,300.5h1M421,289.5h1M414,285.5h1M419,292.5h1M432,290.5h1M425,275.5h1M433,283.5h1M432,286.5h1M410,286.5h1M393,295.5h1M421,296.5h1M406,286.5h1M393,293.5h1M437,283.5h1M414,282.5h1M413,292.5h1M398,282.5h1M408,276.5h1M414,294.5h1M435,286.5h1M392,278.5h1M425,274.5h1M394,298.5h1M424,282.5h1M433,278.5h1M391,279.5h1M431,291.5h1M400,292.5h1M412,299.5h1M395,307.5h1M405,310.5h1M411,310.5h1M401,305.5h1M402,298.5h1M414,305.5h1M400,316.5h1M408,309.5h1M410,311.5h1M401,310.5h1M410,304.5h1M405,297.5h1"/>
<rect class="ln" x="358.5" y="246.5" width="139" height="127"/>
<path class="ln" d="M354.1,373.5H358.5M358.5,373.5V377.3M354.1,341.5H358.5M393.5,373.5V377.3M354.1,310.5H358.5M428.5,373.5V377.3M354.1,278.5H358.5M462.5,373.5V377.3M354.1,246.5H358.5M497.5,373.5V377.3"/>
<text class="b t" x="351.3" y="379.5" font-size="8.6" text-anchor="end">10<tspan font-size="7.2" dy="-2.2">0</tspan></text>
<text class="b t" x="357.9" y="387.8" font-size="8.6" text-anchor="middle">10<tspan font-size="7.2" dy="-2.2">0</tspan></text>
<text class="b t" x="351.3" y="346.8" font-size="8.6" text-anchor="end">10<tspan font-size="7.2" dy="-2.2">1</tspan></text>
<text class="b t" x="392.6" y="387.8" font-size="8.6" text-anchor="middle">10<tspan font-size="7.2" dy="-2.2">1</tspan></text>
<text class="b t" x="351.3" y="316.1" font-size="8.6" text-anchor="end">10<tspan font-size="7.2" dy="-2.2">2</tspan></text>
<text class="b t" x="427.4" y="387.8" font-size="8.6" text-anchor="middle">10<tspan font-size="7.2" dy="-2.2">2</tspan></text>
<text class="b t" x="351.3" y="284.4" font-size="8.6" text-anchor="end">10<tspan font-size="7.2" dy="-2.2">3</tspan></text>
<text class="b t" x="462.1" y="387.8" font-size="8.6" text-anchor="middle">10<tspan font-size="7.2" dy="-2.2">3</tspan></text>
<text class="b t" x="351.3" y="253.4" font-size="8.6" text-anchor="end">10<tspan font-size="7.2" dy="-2.2">4</tspan></text>
<text class="b t" x="496.9" y="387.8" font-size="8.6" text-anchor="middle">10<tspan font-size="7.2" dy="-2.2">4</tspan></text>
<path class="gate" d="M396.5,266.5H470.5V340.5H396.5ZM396.5,296.5H470.5"/>
<text class="b" style="stroke-width:0.25px" x="469.9" y="294.6" font-size="9.6" text-anchor="end">30%</text>
<text class="b" style="stroke-width:0.25px" x="469.9" y="337.4" font-size="9.6" text-anchor="end">1%</text>
<text class="b" x="380.4" y="405.5" font-size="12.6">CD11b expression</text>
<text class="b" transform="translate(329.2,318.4) rotate(-90)" font-size="12.6" text-anchor="middle">B220 expression</text>
<text class="r" x="5" y="13.8" font-size="16.8">A</text>
<text class="r" x="7.6" y="437.6" font-size="16.6">B</text>
<text class="r" x="220.2" y="437" font-size="16.6">C</text>
<text class="b" x="207" y="52.6" font-size="12.8" text-anchor="middle">Day 0</text>
<text class="b" x="429.3" y="51.4" font-size="12.8" text-anchor="middle">Day 3</text>
<text class="bi" x="6" y="137.6" font-size="12.7">EML/Hyg</text>
<text class="bi" x="0.6" y="316.6" font-size="12.6">EML/Pax5A</text>
<rect class="ln" x="34.5" y="452.5" width="158" height="144"/>
<path class="ln" d="M31,596.5H34.5M31,560.5H34.5M31,524.5H34.5M31,488.5H34.5M31,452.5H34.5M51.5,596.5V600.3M93.5,596.5V600.3M136.5,596.5V600.3M178.5,596.5V600.3"/>
<text class="b" x="27.9" y="600.7" font-size="9.8" text-anchor="end">0</text>
<text class="b" x="27.9" y="564.7" font-size="9.8" text-anchor="end">5</text>
<text class="b" x="27.9" y="528.7" font-size="9.8" text-anchor="end">10</text>
<text class="b" x="27.9" y="492.7" font-size="9.8" text-anchor="end">15</text>
<text class="b" x="27.9" y="456.7" font-size="9.8" text-anchor="end">20</text>
<text class="b" x="51.2" y="610.8" font-size="9.6" text-anchor="middle">0</text>
<text class="b" x="93.8" y="610.8" font-size="9.6" text-anchor="middle">1</text>
<text class="b" x="136.4" y="610.8" font-size="9.6" text-anchor="middle">2</text>
<text class="b" x="179" y="610.8" font-size="9.6" text-anchor="middle">3</text>
<polyline class="ln" stroke-width="0.9" points="51.1,575.7 92.2,570.3 134.4,485.4 177.2,475.4"/>
<polyline class="ln" stroke-width="0.9" points="51.1,573.1 92,566.9 134.2,499.2 177.8,507.7"/>
<polyline class="ln" stroke-width="0.9" points="51.1,568.2 91.4,545.1 134.2,482 178.3,536.2"/>
<polyline class="ln" stroke-width="0.9" points="51.1,583.8 91.7,563.1 134.2,488.5 177.8,501.5"/>
<circle cx="51.1" cy="575.7" r="3.3" fill="#0a0a0a"/>
<circle cx="92.2" cy="570.3" r="3.3" fill="#0a0a0a"/>
<circle cx="134.4" cy="485.4" r="3.3" fill="#0a0a0a"/>
<circle cx="177.2" cy="475.4" r="3.3" fill="#0a0a0a"/>
<rect x="47.9" y="569.9" width="6.4" height="6.4" fill="#0a0a0a"/>
<rect x="88.8" y="563.7" width="6.4" height="6.4" fill="#0a0a0a"/>
<rect x="131" y="496" width="6.4" height="6.4" fill="#0a0a0a"/>
<rect x="174.6" y="504.5" width="6.4" height="6.4" fill="#0a0a0a"/>
<rect x="48.3" y="565.4" width="5.6" height="5.6" fill="#fff" stroke="#0a0a0a" stroke-width="1.05"/>
<rect x="88.6" y="542.3" width="5.6" height="5.6" fill="#fff" stroke="#0a0a0a" stroke-width="1.05"/>
<rect x="131.4" y="479.2" width="5.6" height="5.6" fill="#fff" stroke="#0a0a0a" stroke-width="1.05"/>
<rect x="175.5" y="533.4" width="5.6" height="5.6" fill="#fff" stroke="#0a0a0a" stroke-width="1.05"/>
<circle cx="51.1" cy="583.8" r="2.9" fill="#fff" stroke="#0a0a0a" stroke-width="1.05"/>
<circle cx="91.7" cy="563.1" r="2.9" fill="#fff" stroke="#0a0a0a" stroke-width="1.05"/>
<circle cx="134.2" cy="488.5" r="2.9" fill="#fff" stroke="#0a0a0a" stroke-width="1.05"/>
<circle cx="177.8" cy="501.5" r="2.9" fill="#fff" stroke="#0a0a0a" stroke-width="1.05"/>
<text class="b" transform="translate(10,523.5) rotate(-90)" font-size="8.35" text-anchor="middle">Percent B220<tspan font-size="7.8" dy="-2.8">hi</tspan><tspan dy="2.8">/CD11b+ cells</tspan></text>
<text class="b" x="83.4" y="622.6" font-size="9.6">Days after IL-3</text>
<rect class="ln" x="256.5" y="450.5" width="157" height="144"/>
<path class="ln" d="M253,594.5H256.5M253,558.5H256.5M253,522.5H256.5M253,486.5H256.5M253,450.5H256.5M272.5,594.5V598.3M314.5,594.5V598.3M356.5,594.5V598.3M399.5,594.5V598.3"/>
<text class="b" x="249.9" y="598.7" font-size="9.8" text-anchor="end">0</text>
<text class="b" x="249.9" y="562.7" font-size="9.8" text-anchor="end">5</text>
<text class="b" x="249.9" y="526.7" font-size="9.8" text-anchor="end">10</text>
<text class="b" x="249.9" y="490.7" font-size="9.8" text-anchor="end">15</text>
<text class="b" x="249.9" y="454.7" font-size="9.8" text-anchor="end">20</text>
<text class="b" x="272.4" y="608.4" font-size="9.6" text-anchor="middle">0</text>
<text class="b" x="314.7" y="608.4" font-size="9.6" text-anchor="middle">1</text>
<text class="b" x="357" y="608.4" font-size="9.6" text-anchor="middle">2</text>
<text class="b" x="399.3" y="608.4" font-size="9.6" text-anchor="middle">3</text>
<polyline class="ln" stroke-width="0.9" points="272.2,590 314.2,589.2 356.8,588.6 399.2,588.6"/>
<polyline class="ln" stroke-width="0.9" points="272.2,588.6 314.2,586.2 356.8,585 399.2,585"/>
<polyline class="ln" stroke-width="0.9" points="272.2,582.3 312.5,568.9 355.8,542.8 396.5,487"/>
<polyline class="ln" stroke-width="0.9" points="272.2,573.1 312.5,565.4 354.9,471.2 396.5,456"/>
<rect x="269" y="586.8" width="6.4" height="6.4" fill="#0a0a0a"/>
<rect x="311" y="586" width="6.4" height="6.4" fill="#0a0a0a"/>
<rect x="353.6" y="585.4" width="6.4" height="6.4" fill="#0a0a0a"/>
<rect x="396" y="585.4" width="6.4" height="6.4" fill="#0a0a0a"/>
<circle cx="272.2" cy="588.6" r="3.3" fill="#0a0a0a"/>
<circle cx="314.2" cy="586.2" r="3.3" fill="#0a0a0a"/>
<circle cx="356.8" cy="585" r="3.3" fill="#0a0a0a"/>
<circle cx="399.2" cy="585" r="3.3" fill="#0a0a0a"/>
<circle cx="272.2" cy="582.3" r="2.9" fill="#fff" stroke="#0a0a0a" stroke-width="1.05"/>
<circle cx="312.5" cy="568.9" r="2.9" fill="#fff" stroke="#0a0a0a" stroke-width="1.05"/>
<circle cx="355.8" cy="542.8" r="2.9" fill="#fff" stroke="#0a0a0a" stroke-width="1.05"/>
<circle cx="396.5" cy="487" r="2.9" fill="#fff" stroke="#0a0a0a" stroke-width="1.05"/>
<rect x="269.4" y="570.3" width="5.6" height="5.6" fill="#fff" stroke="#0a0a0a" stroke-width="1.05"/>
<rect x="309.7" y="562.6" width="5.6" height="5.6" fill="#fff" stroke="#0a0a0a" stroke-width="1.05"/>
<rect x="352.1" y="468.4" width="5.6" height="5.6" fill="#fff" stroke="#0a0a0a" stroke-width="1.05"/>
<rect x="393.7" y="453.2" width="5.6" height="5.6" fill="#fff" stroke="#0a0a0a" stroke-width="1.05"/>
<text class="b" transform="translate(232.2,523.2) rotate(-90)" font-size="8.35" text-anchor="middle">Percent B220l<tspan font-size="7.8" dy="-2.8">o</tspan><tspan dy="2.8">/CD11b+ cells</tspan></text>
<text class="b" x="304.2" y="622.4" font-size="9.6">Days after IL-3</text>
<circle cx="444" cy="493" r="2.9" fill="#fff" stroke="#0a0a0a" stroke-width="1.05"/>
<text class="b" x="453.6" y="496.2" font-size="9.85">EML/Hyg-1</text>
<rect x="441.2" y="504.8" width="5.6" height="5.6" fill="#fff" stroke="#0a0a0a" stroke-width="1.05"/>
<text class="b" x="453.6" y="510.8" font-size="9.85">EML/Hyg-3</text>
<circle cx="444" cy="522" r="3.3" fill="#0a0a0a"/>
<text class="b" x="453.6" y="525.6" font-size="9.85">EML/Pax-5A-3</text>
<rect x="440.8" y="533.2" width="6.4" height="6.4" fill="#0a0a0a"/>
<text class="b" x="453.6" y="540.2" font-size="9.85">EML/Pax5A-5</text>
</svg>
</body></html>
